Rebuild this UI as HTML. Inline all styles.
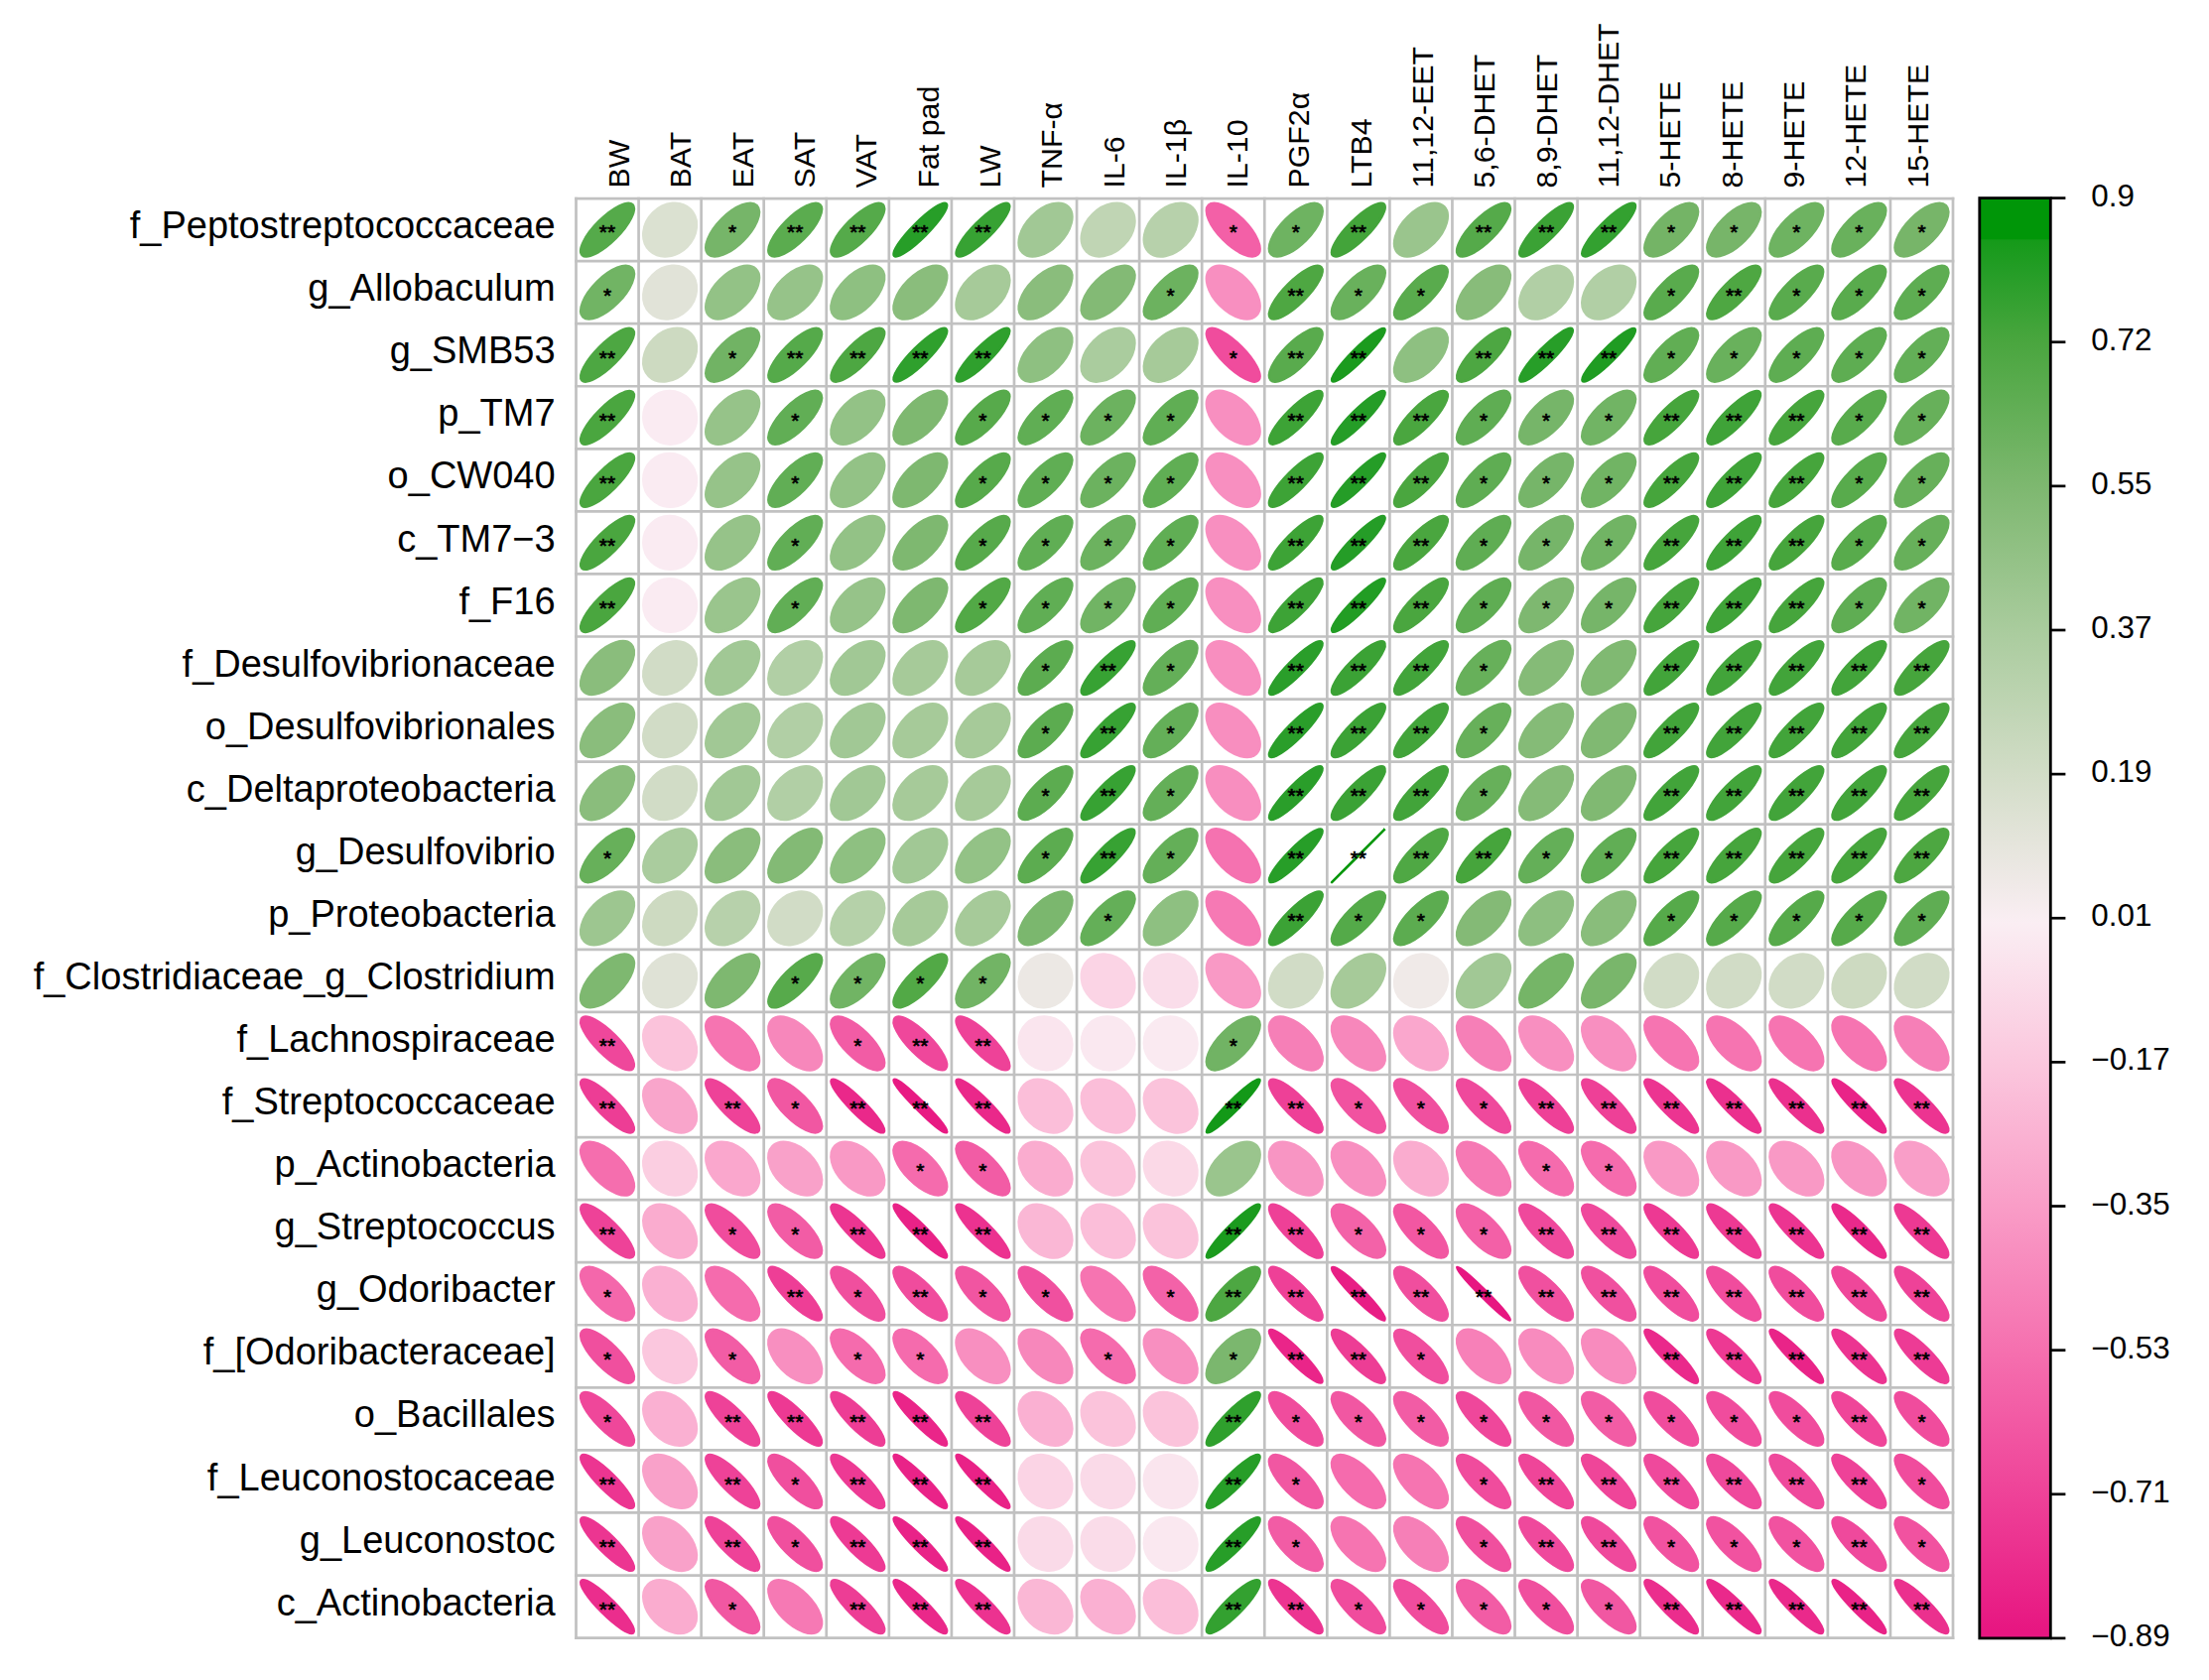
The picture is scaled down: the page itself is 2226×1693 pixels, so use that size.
<!DOCTYPE html><html><head><meta charset="utf-8"><title>Correlation plot</title>
<style>html,body{margin:0;padding:0;background:#fff}svg{display:block}text{font-family:"Liberation Sans",sans-serif;fill:#000}</style></head><body>
<svg width="2226" height="1693" viewBox="0 0 2226 1693">
<rect width="2226" height="1693" fill="#fff"/>
<defs><linearGradient id="cb" x1="0" y1="0" x2="0" y2="1">
<stop offset="0" stop-color="#009608"/><stop offset="0.0286" stop-color="#009608"/><stop offset="0.0290" stop-color="#159a19"/>
<stop offset="0.0503" stop-color="#249d26"/>
<stop offset="0.1006" stop-color="#4aa63f"/>
<stop offset="0.2011" stop-color="#7eb870"/>
<stop offset="0.3017" stop-color="#aacc9e"/>
<stop offset="0.4022" stop-color="#d3ddc8"/>
<stop offset="0.5028" stop-color="#faeef3"/>
<stop offset="0.6033" stop-color="#fbc6dd"/>
<stop offset="0.7039" stop-color="#f99bc6"/>
<stop offset="0.8044" stop-color="#f56eae"/>
<stop offset="0.9050" stop-color="#ee4097"/>
<stop offset="0.9955" stop-color="#e71681"/>
</linearGradient></defs>
<g stroke-width="2.6">
<ellipse cx="612.03" cy="231.58" rx="35.92" ry="12.12" fill="#55aa4a" stroke="#55aa4a" transform="rotate(-45 612.03 231.58)"/>
<ellipse cx="675.10" cy="231.58" rx="29.13" ry="24.26" fill="#dbe1d1" stroke="#dbe1d1" transform="rotate(-45 675.10 231.58)"/>
<ellipse cx="738.17" cy="231.58" rx="34.64" ry="15.40" fill="#76b569" stroke="#76b569" transform="rotate(-45 738.17 231.58)"/>
<ellipse cx="801.24" cy="231.58" rx="35.71" ry="12.71" fill="#5bac4f" stroke="#5bac4f" transform="rotate(-45 801.24 231.58)"/>
<ellipse cx="864.31" cy="231.58" rx="35.92" ry="12.12" fill="#55aa4a" stroke="#55aa4a" transform="rotate(-45 864.31 231.58)"/>
<ellipse cx="927.38" cy="231.58" rx="37.12" ry="7.68" fill="#279e28" stroke="#279e28" transform="rotate(-45 927.38 231.58)"/>
<ellipse cx="990.44" cy="231.58" rx="36.75" ry="9.29" fill="#37a233" stroke="#37a233" transform="rotate(-45 990.44 231.58)"/>
<ellipse cx="1053.51" cy="231.58" rx="32.59" ry="19.36" fill="#a1c895" stroke="#a1c895" transform="rotate(-45 1053.51 231.58)"/>
<ellipse cx="1116.58" cy="231.58" rx="30.84" ry="22.04" fill="#c0d5b4" stroke="#c0d5b4" transform="rotate(-45 1116.58 231.58)"/>
<ellipse cx="1179.65" cy="231.58" rx="31.35" ry="21.31" fill="#b7d1ab" stroke="#b7d1ab" transform="rotate(-45 1179.65 231.58)"/>
<ellipse cx="1242.72" cy="231.58" rx="35.13" ry="14.23" fill="#f360a7" stroke="#f360a7" transform="rotate(45 1242.72 231.58)"/>
<ellipse cx="1305.78" cy="231.58" rx="34.95" ry="14.68" fill="#6eb361" stroke="#6eb361" transform="rotate(-45 1305.78 231.58)"/>
<ellipse cx="1368.85" cy="231.58" rx="36.48" ry="10.31" fill="#43a43a" stroke="#43a43a" transform="rotate(-45 1368.85 231.58)"/>
<ellipse cx="1431.92" cy="231.58" rx="32.96" ry="18.73" fill="#9ac58d" stroke="#9ac58d" transform="rotate(-45 1431.92 231.58)"/>
<ellipse cx="1494.99" cy="231.58" rx="35.92" ry="12.12" fill="#55aa4a" stroke="#55aa4a" transform="rotate(-45 1494.99 231.58)"/>
<ellipse cx="1558.06" cy="231.58" rx="36.66" ry="9.63" fill="#3ba235" stroke="#3ba235" transform="rotate(-45 1558.06 231.58)"/>
<ellipse cx="1621.12" cy="231.58" rx="36.85" ry="8.89" fill="#33a130" stroke="#33a130" transform="rotate(-45 1621.12 231.58)"/>
<ellipse cx="1684.19" cy="231.58" rx="34.73" ry="15.19" fill="#74b466" stroke="#74b466" transform="rotate(-45 1684.19 231.58)"/>
<ellipse cx="1747.26" cy="231.58" rx="34.62" ry="15.44" fill="#77b569" stroke="#77b569" transform="rotate(-45 1747.26 231.58)"/>
<ellipse cx="1810.33" cy="231.58" rx="34.95" ry="14.68" fill="#6eb361" stroke="#6eb361" transform="rotate(-45 1810.33 231.58)"/>
<ellipse cx="1873.40" cy="231.58" rx="35.16" ry="14.16" fill="#69b15c" stroke="#69b15c" transform="rotate(-45 1873.40 231.58)"/>
<ellipse cx="1936.47" cy="231.58" rx="34.62" ry="15.44" fill="#77b569" stroke="#77b569" transform="rotate(-45 1936.47 231.58)"/>
<ellipse cx="612.03" cy="294.65" rx="34.85" ry="14.92" fill="#71b464" stroke="#71b464" transform="rotate(-45 612.03 294.65)"/>
<ellipse cx="675.10" cy="294.65" rx="28.71" ry="24.75" fill="#e1e3d8" stroke="#e1e3d8" transform="rotate(-45 675.10 294.65)"/>
<ellipse cx="738.17" cy="294.65" rx="33.31" ry="18.10" fill="#93c286" stroke="#93c286" transform="rotate(-45 738.17 294.65)"/>
<ellipse cx="801.24" cy="294.65" rx="33.18" ry="18.32" fill="#96c389" stroke="#96c389" transform="rotate(-45 801.24 294.65)"/>
<ellipse cx="864.31" cy="294.65" rx="33.53" ry="17.68" fill="#8ec081" stroke="#8ec081" transform="rotate(-45 864.31 294.65)"/>
<ellipse cx="927.38" cy="294.65" rx="33.76" ry="17.25" fill="#8abd7c" stroke="#8abd7c" transform="rotate(-45 927.38 294.65)"/>
<ellipse cx="990.44" cy="294.65" rx="32.34" ry="19.77" fill="#a6ca99" stroke="#a6ca99" transform="rotate(-45 990.44 294.65)"/>
<ellipse cx="1053.51" cy="294.65" rx="33.76" ry="17.25" fill="#8abd7c" stroke="#8abd7c" transform="rotate(-45 1053.51 294.65)"/>
<ellipse cx="1116.58" cy="294.65" rx="34.09" ry="16.57" fill="#83ba75" stroke="#83ba75" transform="rotate(-45 1116.58 294.65)"/>
<ellipse cx="1179.65" cy="294.65" rx="35.05" ry="14.43" fill="#6cb25f" stroke="#6cb25f" transform="rotate(-45 1179.65 294.65)"/>
<ellipse cx="1242.72" cy="294.65" rx="32.93" ry="18.78" fill="#f88fc0" stroke="#f88fc0" transform="rotate(45 1242.72 294.65)"/>
<ellipse cx="1305.78" cy="294.65" rx="36.18" ry="11.30" fill="#4ea742" stroke="#4ea742" transform="rotate(-45 1305.78 294.65)"/>
<ellipse cx="1368.85" cy="294.65" rx="35.16" ry="14.16" fill="#69b15c" stroke="#69b15c" transform="rotate(-45 1368.85 294.65)"/>
<ellipse cx="1431.92" cy="294.65" rx="35.80" ry="12.46" fill="#59ab4d" stroke="#59ab4d" transform="rotate(-45 1431.92 294.65)"/>
<ellipse cx="1494.99" cy="294.65" rx="33.85" ry="17.06" fill="#88bc7a" stroke="#88bc7a" transform="rotate(-45 1494.99 294.65)"/>
<ellipse cx="1558.06" cy="294.65" rx="31.72" ry="20.76" fill="#b1cfa5" stroke="#b1cfa5" transform="rotate(-45 1558.06 294.65)"/>
<ellipse cx="1621.12" cy="294.65" rx="31.72" ry="20.76" fill="#b1cfa5" stroke="#b1cfa5" transform="rotate(-45 1621.12 294.65)"/>
<ellipse cx="1684.19" cy="294.65" rx="35.80" ry="12.46" fill="#59ab4d" stroke="#59ab4d" transform="rotate(-45 1684.19 294.65)"/>
<ellipse cx="1747.26" cy="294.65" rx="36.18" ry="11.30" fill="#4ea742" stroke="#4ea742" transform="rotate(-45 1747.26 294.65)"/>
<ellipse cx="1810.33" cy="294.65" rx="35.80" ry="12.46" fill="#59ab4d" stroke="#59ab4d" transform="rotate(-45 1810.33 294.65)"/>
<ellipse cx="1873.40" cy="294.65" rx="35.80" ry="12.46" fill="#59ab4d" stroke="#59ab4d" transform="rotate(-45 1873.40 294.65)"/>
<ellipse cx="1936.47" cy="294.65" rx="35.59" ry="13.05" fill="#5ead52" stroke="#5ead52" transform="rotate(-45 1936.47 294.65)"/>
<ellipse cx="612.03" cy="357.72" rx="36.20" ry="11.24" fill="#4da742" stroke="#4da742" transform="rotate(-45 612.03 357.72)"/>
<ellipse cx="675.10" cy="357.72" rx="30.06" ry="23.10" fill="#cddac1" stroke="#cddac1" transform="rotate(-45 675.10 357.72)"/>
<ellipse cx="738.17" cy="357.72" rx="34.86" ry="14.90" fill="#71b364" stroke="#71b364" transform="rotate(-45 738.17 357.72)"/>
<ellipse cx="801.24" cy="357.72" rx="35.92" ry="12.12" fill="#55aa4a" stroke="#55aa4a" transform="rotate(-45 801.24 357.72)"/>
<ellipse cx="864.31" cy="357.72" rx="36.20" ry="11.24" fill="#4da742" stroke="#4da742" transform="rotate(-45 864.31 357.72)"/>
<ellipse cx="927.38" cy="357.72" rx="36.94" ry="8.52" fill="#2fa02d" stroke="#2fa02d" transform="rotate(-45 927.38 357.72)"/>
<ellipse cx="990.44" cy="357.72" rx="36.94" ry="8.52" fill="#2fa02d" stroke="#2fa02d" transform="rotate(-45 990.44 357.72)"/>
<ellipse cx="1053.51" cy="357.72" rx="33.53" ry="17.68" fill="#8ec081" stroke="#8ec081" transform="rotate(-45 1053.51 357.72)"/>
<ellipse cx="1116.58" cy="357.72" rx="32.10" ry="20.17" fill="#aacc9e" stroke="#aacc9e" transform="rotate(-45 1116.58 357.72)"/>
<ellipse cx="1179.65" cy="357.72" rx="32.34" ry="19.77" fill="#a6ca99" stroke="#a6ca99" transform="rotate(-45 1179.65 357.72)"/>
<ellipse cx="1242.72" cy="357.72" rx="36.02" ry="11.80" fill="#f04c9d" stroke="#f04c9d" transform="rotate(45 1242.72 357.72)"/>
<ellipse cx="1305.78" cy="357.72" rx="35.80" ry="12.46" fill="#59ab4d" stroke="#59ab4d" transform="rotate(-45 1305.78 357.72)"/>
<ellipse cx="1368.85" cy="357.72" rx="37.36" ry="6.40" fill="#1b9b1e" stroke="#1b9b1e" transform="rotate(-45 1368.85 357.72)"/>
<ellipse cx="1431.92" cy="357.72" rx="33.53" ry="17.68" fill="#8ec081" stroke="#8ec081" transform="rotate(-45 1431.92 357.72)"/>
<ellipse cx="1494.99" cy="357.72" rx="36.20" ry="11.24" fill="#4da742" stroke="#4da742" transform="rotate(-45 1494.99 357.72)"/>
<ellipse cx="1558.06" cy="357.72" rx="37.12" ry="7.68" fill="#279e28" stroke="#279e28" transform="rotate(-45 1558.06 357.72)"/>
<ellipse cx="1621.12" cy="357.72" rx="37.28" ry="6.85" fill="#1f9c22" stroke="#1f9c22" transform="rotate(-45 1621.12 357.72)"/>
<ellipse cx="1684.19" cy="357.72" rx="35.49" ry="13.32" fill="#61ae54" stroke="#61ae54" transform="rotate(-45 1684.19 357.72)"/>
<ellipse cx="1747.26" cy="357.72" rx="35.16" ry="14.16" fill="#69b15c" stroke="#69b15c" transform="rotate(-45 1747.26 357.72)"/>
<ellipse cx="1810.33" cy="357.72" rx="35.59" ry="13.05" fill="#5ead52" stroke="#5ead52" transform="rotate(-45 1810.33 357.72)"/>
<ellipse cx="1873.40" cy="357.72" rx="35.59" ry="13.05" fill="#5ead52" stroke="#5ead52" transform="rotate(-45 1873.40 357.72)"/>
<ellipse cx="1936.47" cy="357.72" rx="35.38" ry="13.61" fill="#63af57" stroke="#63af57" transform="rotate(-45 1936.47 357.72)"/>
<ellipse cx="612.03" cy="420.79" rx="36.31" ry="10.89" fill="#4aa63f" stroke="#4aa63f" transform="rotate(-45 612.03 420.79)"/>
<ellipse cx="675.10" cy="420.79" rx="27.03" ry="26.58" fill="#faebf2" stroke="#faebf2" transform="rotate(45 675.10 420.79)"/>
<ellipse cx="738.17" cy="420.79" rx="33.18" ry="18.32" fill="#96c389" stroke="#96c389" transform="rotate(-45 738.17 420.79)"/>
<ellipse cx="801.24" cy="420.79" rx="35.46" ry="13.40" fill="#61ae55" stroke="#61ae55" transform="rotate(-45 801.24 420.79)"/>
<ellipse cx="864.31" cy="420.79" rx="33.31" ry="18.10" fill="#93c286" stroke="#93c286" transform="rotate(-45 864.31 420.79)"/>
<ellipse cx="927.38" cy="420.79" rx="34.33" ry="16.08" fill="#7eb870" stroke="#7eb870" transform="rotate(-45 927.38 420.79)"/>
<ellipse cx="990.44" cy="420.79" rx="35.86" ry="12.28" fill="#57aa4b" stroke="#57aa4b" transform="rotate(-45 990.44 420.79)"/>
<ellipse cx="1053.51" cy="420.79" rx="35.51" ry="13.27" fill="#60ae54" stroke="#60ae54" transform="rotate(-45 1053.51 420.79)"/>
<ellipse cx="1116.58" cy="420.79" rx="35.05" ry="14.43" fill="#6cb25f" stroke="#6cb25f" transform="rotate(-45 1116.58 420.79)"/>
<ellipse cx="1179.65" cy="420.79" rx="35.51" ry="13.27" fill="#60ae54" stroke="#60ae54" transform="rotate(-45 1179.65 420.79)"/>
<ellipse cx="1242.72" cy="420.79" rx="32.93" ry="18.78" fill="#f88fc0" stroke="#f88fc0" transform="rotate(45 1242.72 420.79)"/>
<ellipse cx="1305.78" cy="420.79" rx="36.62" ry="9.79" fill="#3da336" stroke="#3da336" transform="rotate(-45 1305.78 420.79)"/>
<ellipse cx="1368.85" cy="420.79" rx="37.16" ry="7.47" fill="#259d27" stroke="#259d27" transform="rotate(-45 1368.85 420.79)"/>
<ellipse cx="1431.92" cy="420.79" rx="36.31" ry="10.89" fill="#4aa63f" stroke="#4aa63f" transform="rotate(-45 1431.92 420.79)"/>
<ellipse cx="1494.99" cy="420.79" rx="35.56" ry="13.13" fill="#5fad53" stroke="#5fad53" transform="rotate(-45 1494.99 420.79)"/>
<ellipse cx="1558.06" cy="420.79" rx="34.64" ry="15.40" fill="#76b569" stroke="#76b569" transform="rotate(-45 1558.06 420.79)"/>
<ellipse cx="1621.12" cy="420.79" rx="34.85" ry="14.92" fill="#71b464" stroke="#71b464" transform="rotate(-45 1621.12 420.79)"/>
<ellipse cx="1684.19" cy="420.79" rx="36.40" ry="10.59" fill="#46a53c" stroke="#46a53c" transform="rotate(-45 1684.19 420.79)"/>
<ellipse cx="1747.26" cy="420.79" rx="36.58" ry="9.96" fill="#3fa338" stroke="#3fa338" transform="rotate(-45 1747.26 420.79)"/>
<ellipse cx="1810.33" cy="420.79" rx="36.40" ry="10.59" fill="#46a53c" stroke="#46a53c" transform="rotate(-45 1810.33 420.79)"/>
<ellipse cx="1873.40" cy="420.79" rx="35.81" ry="12.43" fill="#58ab4c" stroke="#58ab4c" transform="rotate(-45 1873.40 420.79)"/>
<ellipse cx="1936.47" cy="420.79" rx="35.26" ry="13.93" fill="#67b05a" stroke="#67b05a" transform="rotate(-45 1936.47 420.79)"/>
<ellipse cx="612.03" cy="483.85" rx="36.31" ry="10.89" fill="#4aa63f" stroke="#4aa63f" transform="rotate(-45 612.03 483.85)"/>
<ellipse cx="675.10" cy="483.85" rx="27.03" ry="26.58" fill="#faebf2" stroke="#faebf2" transform="rotate(45 675.10 483.85)"/>
<ellipse cx="738.17" cy="483.85" rx="33.18" ry="18.32" fill="#96c389" stroke="#96c389" transform="rotate(-45 738.17 483.85)"/>
<ellipse cx="801.24" cy="483.85" rx="35.46" ry="13.40" fill="#61ae55" stroke="#61ae55" transform="rotate(-45 801.24 483.85)"/>
<ellipse cx="864.31" cy="483.85" rx="33.31" ry="18.10" fill="#93c286" stroke="#93c286" transform="rotate(-45 864.31 483.85)"/>
<ellipse cx="927.38" cy="483.85" rx="34.33" ry="16.08" fill="#7eb870" stroke="#7eb870" transform="rotate(-45 927.38 483.85)"/>
<ellipse cx="990.44" cy="483.85" rx="35.86" ry="12.28" fill="#57aa4b" stroke="#57aa4b" transform="rotate(-45 990.44 483.85)"/>
<ellipse cx="1053.51" cy="483.85" rx="35.51" ry="13.27" fill="#60ae54" stroke="#60ae54" transform="rotate(-45 1053.51 483.85)"/>
<ellipse cx="1116.58" cy="483.85" rx="35.05" ry="14.43" fill="#6cb25f" stroke="#6cb25f" transform="rotate(-45 1116.58 483.85)"/>
<ellipse cx="1179.65" cy="483.85" rx="35.51" ry="13.27" fill="#60ae54" stroke="#60ae54" transform="rotate(-45 1179.65 483.85)"/>
<ellipse cx="1242.72" cy="483.85" rx="32.93" ry="18.78" fill="#f88fc0" stroke="#f88fc0" transform="rotate(45 1242.72 483.85)"/>
<ellipse cx="1305.78" cy="483.85" rx="36.62" ry="9.79" fill="#3da336" stroke="#3da336" transform="rotate(-45 1305.78 483.85)"/>
<ellipse cx="1368.85" cy="483.85" rx="37.16" ry="7.47" fill="#259d27" stroke="#259d27" transform="rotate(-45 1368.85 483.85)"/>
<ellipse cx="1431.92" cy="483.85" rx="36.31" ry="10.89" fill="#4aa63f" stroke="#4aa63f" transform="rotate(-45 1431.92 483.85)"/>
<ellipse cx="1494.99" cy="483.85" rx="35.56" ry="13.13" fill="#5fad53" stroke="#5fad53" transform="rotate(-45 1494.99 483.85)"/>
<ellipse cx="1558.06" cy="483.85" rx="34.64" ry="15.40" fill="#76b569" stroke="#76b569" transform="rotate(-45 1558.06 483.85)"/>
<ellipse cx="1621.12" cy="483.85" rx="34.85" ry="14.92" fill="#71b464" stroke="#71b464" transform="rotate(-45 1621.12 483.85)"/>
<ellipse cx="1684.19" cy="483.85" rx="36.40" ry="10.59" fill="#46a53c" stroke="#46a53c" transform="rotate(-45 1684.19 483.85)"/>
<ellipse cx="1747.26" cy="483.85" rx="36.58" ry="9.96" fill="#3fa338" stroke="#3fa338" transform="rotate(-45 1747.26 483.85)"/>
<ellipse cx="1810.33" cy="483.85" rx="36.40" ry="10.59" fill="#46a53c" stroke="#46a53c" transform="rotate(-45 1810.33 483.85)"/>
<ellipse cx="1873.40" cy="483.85" rx="35.81" ry="12.43" fill="#58ab4c" stroke="#58ab4c" transform="rotate(-45 1873.40 483.85)"/>
<ellipse cx="1936.47" cy="483.85" rx="35.26" ry="13.93" fill="#67b05a" stroke="#67b05a" transform="rotate(-45 1936.47 483.85)"/>
<ellipse cx="612.03" cy="546.92" rx="36.31" ry="10.89" fill="#4aa63f" stroke="#4aa63f" transform="rotate(-45 612.03 546.92)"/>
<ellipse cx="675.10" cy="546.92" rx="27.03" ry="26.58" fill="#faebf2" stroke="#faebf2" transform="rotate(45 675.10 546.92)"/>
<ellipse cx="738.17" cy="546.92" rx="33.18" ry="18.32" fill="#96c389" stroke="#96c389" transform="rotate(-45 738.17 546.92)"/>
<ellipse cx="801.24" cy="546.92" rx="35.46" ry="13.40" fill="#61ae55" stroke="#61ae55" transform="rotate(-45 801.24 546.92)"/>
<ellipse cx="864.31" cy="546.92" rx="33.31" ry="18.10" fill="#93c286" stroke="#93c286" transform="rotate(-45 864.31 546.92)"/>
<ellipse cx="927.38" cy="546.92" rx="34.33" ry="16.08" fill="#7eb870" stroke="#7eb870" transform="rotate(-45 927.38 546.92)"/>
<ellipse cx="990.44" cy="546.92" rx="35.86" ry="12.28" fill="#57aa4b" stroke="#57aa4b" transform="rotate(-45 990.44 546.92)"/>
<ellipse cx="1053.51" cy="546.92" rx="35.51" ry="13.27" fill="#60ae54" stroke="#60ae54" transform="rotate(-45 1053.51 546.92)"/>
<ellipse cx="1116.58" cy="546.92" rx="35.05" ry="14.43" fill="#6cb25f" stroke="#6cb25f" transform="rotate(-45 1116.58 546.92)"/>
<ellipse cx="1179.65" cy="546.92" rx="35.51" ry="13.27" fill="#60ae54" stroke="#60ae54" transform="rotate(-45 1179.65 546.92)"/>
<ellipse cx="1242.72" cy="546.92" rx="32.93" ry="18.78" fill="#f88fc0" stroke="#f88fc0" transform="rotate(45 1242.72 546.92)"/>
<ellipse cx="1305.78" cy="546.92" rx="36.62" ry="9.79" fill="#3da336" stroke="#3da336" transform="rotate(-45 1305.78 546.92)"/>
<ellipse cx="1368.85" cy="546.92" rx="37.16" ry="7.47" fill="#259d27" stroke="#259d27" transform="rotate(-45 1368.85 546.92)"/>
<ellipse cx="1431.92" cy="546.92" rx="36.31" ry="10.89" fill="#4aa63f" stroke="#4aa63f" transform="rotate(-45 1431.92 546.92)"/>
<ellipse cx="1494.99" cy="546.92" rx="35.56" ry="13.13" fill="#5fad53" stroke="#5fad53" transform="rotate(-45 1494.99 546.92)"/>
<ellipse cx="1558.06" cy="546.92" rx="34.64" ry="15.40" fill="#76b569" stroke="#76b569" transform="rotate(-45 1558.06 546.92)"/>
<ellipse cx="1621.12" cy="546.92" rx="34.85" ry="14.92" fill="#71b464" stroke="#71b464" transform="rotate(-45 1621.12 546.92)"/>
<ellipse cx="1684.19" cy="546.92" rx="36.40" ry="10.59" fill="#46a53c" stroke="#46a53c" transform="rotate(-45 1684.19 546.92)"/>
<ellipse cx="1747.26" cy="546.92" rx="36.58" ry="9.96" fill="#3fa338" stroke="#3fa338" transform="rotate(-45 1747.26 546.92)"/>
<ellipse cx="1810.33" cy="546.92" rx="36.40" ry="10.59" fill="#46a53c" stroke="#46a53c" transform="rotate(-45 1810.33 546.92)"/>
<ellipse cx="1873.40" cy="546.92" rx="35.81" ry="12.43" fill="#58ab4c" stroke="#58ab4c" transform="rotate(-45 1873.40 546.92)"/>
<ellipse cx="1936.47" cy="546.92" rx="35.26" ry="13.93" fill="#67b05a" stroke="#67b05a" transform="rotate(-45 1936.47 546.92)"/>
<ellipse cx="612.03" cy="609.99" rx="36.31" ry="10.89" fill="#4aa63f" stroke="#4aa63f" transform="rotate(-45 612.03 609.99)"/>
<ellipse cx="675.10" cy="609.99" rx="27.03" ry="26.58" fill="#faebf2" stroke="#faebf2" transform="rotate(45 675.10 609.99)"/>
<ellipse cx="738.17" cy="609.99" rx="32.96" ry="18.73" fill="#9ac58d" stroke="#9ac58d" transform="rotate(-45 738.17 609.99)"/>
<ellipse cx="801.24" cy="609.99" rx="35.46" ry="13.40" fill="#61ae55" stroke="#61ae55" transform="rotate(-45 801.24 609.99)"/>
<ellipse cx="864.31" cy="609.99" rx="33.18" ry="18.32" fill="#96c389" stroke="#96c389" transform="rotate(-45 864.31 609.99)"/>
<ellipse cx="927.38" cy="609.99" rx="34.33" ry="16.08" fill="#7eb870" stroke="#7eb870" transform="rotate(-45 927.38 609.99)"/>
<ellipse cx="990.44" cy="609.99" rx="36.04" ry="11.74" fill="#52a946" stroke="#52a946" transform="rotate(-45 990.44 609.99)"/>
<ellipse cx="1053.51" cy="609.99" rx="35.51" ry="13.27" fill="#60ae54" stroke="#60ae54" transform="rotate(-45 1053.51 609.99)"/>
<ellipse cx="1116.58" cy="609.99" rx="34.85" ry="14.92" fill="#71b464" stroke="#71b464" transform="rotate(-45 1116.58 609.99)"/>
<ellipse cx="1179.65" cy="609.99" rx="35.51" ry="13.27" fill="#60ae54" stroke="#60ae54" transform="rotate(-45 1179.65 609.99)"/>
<ellipse cx="1242.72" cy="609.99" rx="32.93" ry="18.78" fill="#f88fc0" stroke="#f88fc0" transform="rotate(45 1242.72 609.99)"/>
<ellipse cx="1305.78" cy="609.99" rx="36.62" ry="9.79" fill="#3da336" stroke="#3da336" transform="rotate(-45 1305.78 609.99)"/>
<ellipse cx="1368.85" cy="609.99" rx="37.23" ry="7.15" fill="#229d24" stroke="#229d24" transform="rotate(-45 1368.85 609.99)"/>
<ellipse cx="1431.92" cy="609.99" rx="36.31" ry="10.89" fill="#4aa63f" stroke="#4aa63f" transform="rotate(-45 1431.92 609.99)"/>
<ellipse cx="1494.99" cy="609.99" rx="35.56" ry="13.13" fill="#5fad53" stroke="#5fad53" transform="rotate(-45 1494.99 609.99)"/>
<ellipse cx="1558.06" cy="609.99" rx="34.33" ry="16.08" fill="#7eb870" stroke="#7eb870" transform="rotate(-45 1558.06 609.99)"/>
<ellipse cx="1621.12" cy="609.99" rx="34.64" ry="15.40" fill="#76b569" stroke="#76b569" transform="rotate(-45 1621.12 609.99)"/>
<ellipse cx="1684.19" cy="609.99" rx="36.40" ry="10.59" fill="#46a53c" stroke="#46a53c" transform="rotate(-45 1684.19 609.99)"/>
<ellipse cx="1747.26" cy="609.99" rx="36.58" ry="9.96" fill="#3fa338" stroke="#3fa338" transform="rotate(-45 1747.26 609.99)"/>
<ellipse cx="1810.33" cy="609.99" rx="36.40" ry="10.59" fill="#46a53c" stroke="#46a53c" transform="rotate(-45 1810.33 609.99)"/>
<ellipse cx="1873.40" cy="609.99" rx="35.56" ry="13.13" fill="#5fad53" stroke="#5fad53" transform="rotate(-45 1873.40 609.99)"/>
<ellipse cx="1936.47" cy="609.99" rx="34.85" ry="14.92" fill="#71b464" stroke="#71b464" transform="rotate(-45 1936.47 609.99)"/>
<ellipse cx="612.03" cy="673.06" rx="33.76" ry="17.25" fill="#8abd7c" stroke="#8abd7c" transform="rotate(-45 612.03 673.06)"/>
<ellipse cx="675.10" cy="673.06" rx="29.79" ry="23.44" fill="#d1dcc6" stroke="#d1dcc6" transform="rotate(-45 675.10 673.06)"/>
<ellipse cx="738.17" cy="673.06" rx="32.59" ry="19.36" fill="#a1c895" stroke="#a1c895" transform="rotate(-45 738.17 673.06)"/>
<ellipse cx="801.24" cy="673.06" rx="31.72" ry="20.76" fill="#b1cfa5" stroke="#b1cfa5" transform="rotate(-45 801.24 673.06)"/>
<ellipse cx="864.31" cy="673.06" rx="32.59" ry="19.36" fill="#a1c895" stroke="#a1c895" transform="rotate(-45 864.31 673.06)"/>
<ellipse cx="927.38" cy="673.06" rx="32.34" ry="19.77" fill="#a6ca99" stroke="#a6ca99" transform="rotate(-45 927.38 673.06)"/>
<ellipse cx="990.44" cy="673.06" rx="32.34" ry="19.77" fill="#a6ca99" stroke="#a6ca99" transform="rotate(-45 990.44 673.06)"/>
<ellipse cx="1053.51" cy="673.06" rx="35.66" ry="12.85" fill="#5cac50" stroke="#5cac50" transform="rotate(-45 1053.51 673.06)"/>
<ellipse cx="1116.58" cy="673.06" rx="36.75" ry="9.29" fill="#37a233" stroke="#37a233" transform="rotate(-45 1116.58 673.06)"/>
<ellipse cx="1179.65" cy="673.06" rx="35.36" ry="13.67" fill="#64af58" stroke="#64af58" transform="rotate(-45 1179.65 673.06)"/>
<ellipse cx="1242.72" cy="673.06" rx="33.02" ry="18.62" fill="#f88ebf" stroke="#f88ebf" transform="rotate(45 1242.72 673.06)"/>
<ellipse cx="1305.78" cy="673.06" rx="37.06" ry="7.97" fill="#2a9e2a" stroke="#2a9e2a" transform="rotate(-45 1305.78 673.06)"/>
<ellipse cx="1368.85" cy="673.06" rx="36.66" ry="9.63" fill="#3ba235" stroke="#3ba235" transform="rotate(-45 1368.85 673.06)"/>
<ellipse cx="1431.92" cy="673.06" rx="36.49" ry="10.28" fill="#42a43a" stroke="#42a43a" transform="rotate(-45 1431.92 673.06)"/>
<ellipse cx="1494.99" cy="673.06" rx="35.26" ry="13.93" fill="#67b05a" stroke="#67b05a" transform="rotate(-45 1494.99 673.06)"/>
<ellipse cx="1558.06" cy="673.06" rx="34.01" ry="16.74" fill="#85bb77" stroke="#85bb77" transform="rotate(-45 1558.06 673.06)"/>
<ellipse cx="1621.12" cy="673.06" rx="34.22" ry="16.30" fill="#80b972" stroke="#80b972" transform="rotate(-45 1621.12 673.06)"/>
<ellipse cx="1684.19" cy="673.06" rx="36.49" ry="10.28" fill="#42a43a" stroke="#42a43a" transform="rotate(-45 1684.19 673.06)"/>
<ellipse cx="1747.26" cy="673.06" rx="36.49" ry="10.28" fill="#42a43a" stroke="#42a43a" transform="rotate(-45 1747.26 673.06)"/>
<ellipse cx="1810.33" cy="673.06" rx="36.49" ry="10.28" fill="#42a43a" stroke="#42a43a" transform="rotate(-45 1810.33 673.06)"/>
<ellipse cx="1873.40" cy="673.06" rx="36.49" ry="10.28" fill="#42a43a" stroke="#42a43a" transform="rotate(-45 1873.40 673.06)"/>
<ellipse cx="1936.47" cy="673.06" rx="36.40" ry="10.59" fill="#46a53c" stroke="#46a53c" transform="rotate(-45 1936.47 673.06)"/>
<ellipse cx="612.03" cy="736.12" rx="33.76" ry="17.25" fill="#8abd7c" stroke="#8abd7c" transform="rotate(-45 612.03 736.12)"/>
<ellipse cx="675.10" cy="736.12" rx="29.79" ry="23.44" fill="#d1dcc6" stroke="#d1dcc6" transform="rotate(-45 675.10 736.12)"/>
<ellipse cx="738.17" cy="736.12" rx="32.59" ry="19.36" fill="#a1c895" stroke="#a1c895" transform="rotate(-45 738.17 736.12)"/>
<ellipse cx="801.24" cy="736.12" rx="31.72" ry="20.76" fill="#b1cfa5" stroke="#b1cfa5" transform="rotate(-45 801.24 736.12)"/>
<ellipse cx="864.31" cy="736.12" rx="32.59" ry="19.36" fill="#a1c895" stroke="#a1c895" transform="rotate(-45 864.31 736.12)"/>
<ellipse cx="927.38" cy="736.12" rx="32.34" ry="19.77" fill="#a6ca99" stroke="#a6ca99" transform="rotate(-45 927.38 736.12)"/>
<ellipse cx="990.44" cy="736.12" rx="32.34" ry="19.77" fill="#a6ca99" stroke="#a6ca99" transform="rotate(-45 990.44 736.12)"/>
<ellipse cx="1053.51" cy="736.12" rx="35.66" ry="12.85" fill="#5cac50" stroke="#5cac50" transform="rotate(-45 1053.51 736.12)"/>
<ellipse cx="1116.58" cy="736.12" rx="36.75" ry="9.29" fill="#37a233" stroke="#37a233" transform="rotate(-45 1116.58 736.12)"/>
<ellipse cx="1179.65" cy="736.12" rx="35.36" ry="13.67" fill="#64af58" stroke="#64af58" transform="rotate(-45 1179.65 736.12)"/>
<ellipse cx="1242.72" cy="736.12" rx="33.02" ry="18.62" fill="#f88ebf" stroke="#f88ebf" transform="rotate(45 1242.72 736.12)"/>
<ellipse cx="1305.78" cy="736.12" rx="37.06" ry="7.97" fill="#2a9e2a" stroke="#2a9e2a" transform="rotate(-45 1305.78 736.12)"/>
<ellipse cx="1368.85" cy="736.12" rx="36.66" ry="9.63" fill="#3ba235" stroke="#3ba235" transform="rotate(-45 1368.85 736.12)"/>
<ellipse cx="1431.92" cy="736.12" rx="36.49" ry="10.28" fill="#42a43a" stroke="#42a43a" transform="rotate(-45 1431.92 736.12)"/>
<ellipse cx="1494.99" cy="736.12" rx="35.26" ry="13.93" fill="#67b05a" stroke="#67b05a" transform="rotate(-45 1494.99 736.12)"/>
<ellipse cx="1558.06" cy="736.12" rx="34.01" ry="16.74" fill="#85bb77" stroke="#85bb77" transform="rotate(-45 1558.06 736.12)"/>
<ellipse cx="1621.12" cy="736.12" rx="34.22" ry="16.30" fill="#80b972" stroke="#80b972" transform="rotate(-45 1621.12 736.12)"/>
<ellipse cx="1684.19" cy="736.12" rx="36.49" ry="10.28" fill="#42a43a" stroke="#42a43a" transform="rotate(-45 1684.19 736.12)"/>
<ellipse cx="1747.26" cy="736.12" rx="36.49" ry="10.28" fill="#42a43a" stroke="#42a43a" transform="rotate(-45 1747.26 736.12)"/>
<ellipse cx="1810.33" cy="736.12" rx="36.49" ry="10.28" fill="#42a43a" stroke="#42a43a" transform="rotate(-45 1810.33 736.12)"/>
<ellipse cx="1873.40" cy="736.12" rx="36.49" ry="10.28" fill="#42a43a" stroke="#42a43a" transform="rotate(-45 1873.40 736.12)"/>
<ellipse cx="1936.47" cy="736.12" rx="36.40" ry="10.59" fill="#46a53c" stroke="#46a53c" transform="rotate(-45 1936.47 736.12)"/>
<ellipse cx="612.03" cy="799.19" rx="33.76" ry="17.25" fill="#8abd7c" stroke="#8abd7c" transform="rotate(-45 612.03 799.19)"/>
<ellipse cx="675.10" cy="799.19" rx="29.79" ry="23.44" fill="#d1dcc6" stroke="#d1dcc6" transform="rotate(-45 675.10 799.19)"/>
<ellipse cx="738.17" cy="799.19" rx="32.59" ry="19.36" fill="#a1c895" stroke="#a1c895" transform="rotate(-45 738.17 799.19)"/>
<ellipse cx="801.24" cy="799.19" rx="31.72" ry="20.76" fill="#b1cfa5" stroke="#b1cfa5" transform="rotate(-45 801.24 799.19)"/>
<ellipse cx="864.31" cy="799.19" rx="32.59" ry="19.36" fill="#a1c895" stroke="#a1c895" transform="rotate(-45 864.31 799.19)"/>
<ellipse cx="927.38" cy="799.19" rx="32.34" ry="19.77" fill="#a6ca99" stroke="#a6ca99" transform="rotate(-45 927.38 799.19)"/>
<ellipse cx="990.44" cy="799.19" rx="32.34" ry="19.77" fill="#a6ca99" stroke="#a6ca99" transform="rotate(-45 990.44 799.19)"/>
<ellipse cx="1053.51" cy="799.19" rx="35.66" ry="12.85" fill="#5cac50" stroke="#5cac50" transform="rotate(-45 1053.51 799.19)"/>
<ellipse cx="1116.58" cy="799.19" rx="36.75" ry="9.29" fill="#37a233" stroke="#37a233" transform="rotate(-45 1116.58 799.19)"/>
<ellipse cx="1179.65" cy="799.19" rx="35.36" ry="13.67" fill="#64af58" stroke="#64af58" transform="rotate(-45 1179.65 799.19)"/>
<ellipse cx="1242.72" cy="799.19" rx="33.02" ry="18.62" fill="#f88ebf" stroke="#f88ebf" transform="rotate(45 1242.72 799.19)"/>
<ellipse cx="1305.78" cy="799.19" rx="37.06" ry="7.97" fill="#2a9e2a" stroke="#2a9e2a" transform="rotate(-45 1305.78 799.19)"/>
<ellipse cx="1368.85" cy="799.19" rx="36.66" ry="9.63" fill="#3ba235" stroke="#3ba235" transform="rotate(-45 1368.85 799.19)"/>
<ellipse cx="1431.92" cy="799.19" rx="36.49" ry="10.28" fill="#42a43a" stroke="#42a43a" transform="rotate(-45 1431.92 799.19)"/>
<ellipse cx="1494.99" cy="799.19" rx="35.26" ry="13.93" fill="#67b05a" stroke="#67b05a" transform="rotate(-45 1494.99 799.19)"/>
<ellipse cx="1558.06" cy="799.19" rx="34.01" ry="16.74" fill="#85bb77" stroke="#85bb77" transform="rotate(-45 1558.06 799.19)"/>
<ellipse cx="1621.12" cy="799.19" rx="34.22" ry="16.30" fill="#80b972" stroke="#80b972" transform="rotate(-45 1621.12 799.19)"/>
<ellipse cx="1684.19" cy="799.19" rx="36.49" ry="10.28" fill="#42a43a" stroke="#42a43a" transform="rotate(-45 1684.19 799.19)"/>
<ellipse cx="1747.26" cy="799.19" rx="36.49" ry="10.28" fill="#42a43a" stroke="#42a43a" transform="rotate(-45 1747.26 799.19)"/>
<ellipse cx="1810.33" cy="799.19" rx="36.49" ry="10.28" fill="#42a43a" stroke="#42a43a" transform="rotate(-45 1810.33 799.19)"/>
<ellipse cx="1873.40" cy="799.19" rx="36.49" ry="10.28" fill="#42a43a" stroke="#42a43a" transform="rotate(-45 1873.40 799.19)"/>
<ellipse cx="1936.47" cy="799.19" rx="36.40" ry="10.59" fill="#46a53c" stroke="#46a53c" transform="rotate(-45 1936.47 799.19)"/>
<ellipse cx="612.03" cy="862.26" rx="35.26" ry="13.93" fill="#67b05a" stroke="#67b05a" transform="rotate(-45 612.03 862.26)"/>
<ellipse cx="675.10" cy="862.26" rx="32.10" ry="20.17" fill="#aacc9e" stroke="#aacc9e" transform="rotate(-45 675.10 862.26)"/>
<ellipse cx="738.17" cy="862.26" rx="33.76" ry="17.25" fill="#8abd7c" stroke="#8abd7c" transform="rotate(-45 738.17 862.26)"/>
<ellipse cx="801.24" cy="862.26" rx="34.09" ry="16.57" fill="#83ba75" stroke="#83ba75" transform="rotate(-45 801.24 862.26)"/>
<ellipse cx="864.31" cy="862.26" rx="33.53" ry="17.68" fill="#8ec081" stroke="#8ec081" transform="rotate(-45 864.31 862.26)"/>
<ellipse cx="927.38" cy="862.26" rx="32.59" ry="19.36" fill="#a1c895" stroke="#a1c895" transform="rotate(-45 927.38 862.26)"/>
<ellipse cx="990.44" cy="862.26" rx="33.31" ry="18.10" fill="#93c286" stroke="#93c286" transform="rotate(-45 990.44 862.26)"/>
<ellipse cx="1053.51" cy="862.26" rx="35.66" ry="12.85" fill="#5cac50" stroke="#5cac50" transform="rotate(-45 1053.51 862.26)"/>
<ellipse cx="1116.58" cy="862.26" rx="36.75" ry="9.29" fill="#37a233" stroke="#37a233" transform="rotate(-45 1116.58 862.26)"/>
<ellipse cx="1179.65" cy="862.26" rx="35.36" ry="13.67" fill="#64af58" stroke="#64af58" transform="rotate(-45 1179.65 862.26)"/>
<ellipse cx="1242.72" cy="862.26" rx="34.32" ry="16.08" fill="#f572b0" stroke="#f572b0" transform="rotate(45 1242.72 862.26)"/>
<ellipse cx="1305.78" cy="862.26" rx="37.12" ry="7.68" fill="#279e28" stroke="#279e28" transform="rotate(-45 1305.78 862.26)"/>
<ellipse cx="1368.85" cy="862.26" rx="37.91" ry="0.05" fill="#009608" stroke="#009608" transform="rotate(-45 1368.85 862.26)"/>
<ellipse cx="1431.92" cy="862.26" rx="36.13" ry="11.47" fill="#4fa844" stroke="#4fa844" transform="rotate(-45 1431.92 862.26)"/>
<ellipse cx="1494.99" cy="862.26" rx="36.40" ry="10.59" fill="#46a53c" stroke="#46a53c" transform="rotate(-45 1494.99 862.26)"/>
<ellipse cx="1558.06" cy="862.26" rx="35.36" ry="13.67" fill="#64af58" stroke="#64af58" transform="rotate(-45 1558.06 862.26)"/>
<ellipse cx="1621.12" cy="862.26" rx="35.46" ry="13.40" fill="#61ae55" stroke="#61ae55" transform="rotate(-45 1621.12 862.26)"/>
<ellipse cx="1684.19" cy="862.26" rx="36.40" ry="10.59" fill="#46a53c" stroke="#46a53c" transform="rotate(-45 1684.19 862.26)"/>
<ellipse cx="1747.26" cy="862.26" rx="36.40" ry="10.59" fill="#46a53c" stroke="#46a53c" transform="rotate(-45 1747.26 862.26)"/>
<ellipse cx="1810.33" cy="862.26" rx="36.40" ry="10.59" fill="#46a53c" stroke="#46a53c" transform="rotate(-45 1810.33 862.26)"/>
<ellipse cx="1873.40" cy="862.26" rx="36.40" ry="10.59" fill="#46a53c" stroke="#46a53c" transform="rotate(-45 1873.40 862.26)"/>
<ellipse cx="1936.47" cy="862.26" rx="36.22" ry="11.18" fill="#4da741" stroke="#4da741" transform="rotate(-45 1936.47 862.26)"/>
<ellipse cx="612.03" cy="925.33" rx="32.81" ry="18.99" fill="#9dc690" stroke="#9dc690" transform="rotate(-45 612.03 925.33)"/>
<ellipse cx="675.10" cy="925.33" rx="30.06" ry="23.10" fill="#cddac1" stroke="#cddac1" transform="rotate(-45 675.10 925.33)"/>
<ellipse cx="738.17" cy="925.33" rx="31.35" ry="21.31" fill="#b7d1ab" stroke="#b7d1ab" transform="rotate(-45 738.17 925.33)"/>
<ellipse cx="801.24" cy="925.33" rx="29.79" ry="23.44" fill="#d1dcc6" stroke="#d1dcc6" transform="rotate(-45 801.24 925.33)"/>
<ellipse cx="864.31" cy="925.33" rx="31.48" ry="21.12" fill="#b5d1a9" stroke="#b5d1a9" transform="rotate(-45 864.31 925.33)"/>
<ellipse cx="927.38" cy="925.33" rx="32.34" ry="19.77" fill="#a6ca99" stroke="#a6ca99" transform="rotate(-45 927.38 925.33)"/>
<ellipse cx="990.44" cy="925.33" rx="32.34" ry="19.77" fill="#a6ca99" stroke="#a6ca99" transform="rotate(-45 990.44 925.33)"/>
<ellipse cx="1053.51" cy="925.33" rx="34.43" ry="15.86" fill="#7bb76e" stroke="#7bb76e" transform="rotate(-45 1053.51 925.33)"/>
<ellipse cx="1116.58" cy="925.33" rx="35.36" ry="13.67" fill="#64af58" stroke="#64af58" transform="rotate(-45 1116.58 925.33)"/>
<ellipse cx="1179.65" cy="925.33" rx="33.53" ry="17.68" fill="#8ec081" stroke="#8ec081" transform="rotate(-45 1179.65 925.33)"/>
<ellipse cx="1242.72" cy="925.33" rx="34.00" ry="16.75" fill="#f679b4" stroke="#f679b4" transform="rotate(45 1242.72 925.33)"/>
<ellipse cx="1305.78" cy="925.33" rx="36.66" ry="9.63" fill="#3ba235" stroke="#3ba235" transform="rotate(-45 1305.78 925.33)"/>
<ellipse cx="1368.85" cy="925.33" rx="35.95" ry="12.02" fill="#54aa49" stroke="#54aa49" transform="rotate(-45 1368.85 925.33)"/>
<ellipse cx="1431.92" cy="925.33" rx="35.66" ry="12.85" fill="#5cac50" stroke="#5cac50" transform="rotate(-45 1431.92 925.33)"/>
<ellipse cx="1494.99" cy="925.33" rx="34.06" ry="16.63" fill="#84ba76" stroke="#84ba76" transform="rotate(-45 1494.99 925.33)"/>
<ellipse cx="1558.06" cy="925.33" rx="33.59" ry="17.58" fill="#8dbf80" stroke="#8dbf80" transform="rotate(-45 1558.06 925.33)"/>
<ellipse cx="1621.12" cy="925.33" rx="33.80" ry="17.16" fill="#89bd7b" stroke="#89bd7b" transform="rotate(-45 1621.12 925.33)"/>
<ellipse cx="1684.19" cy="925.33" rx="35.91" ry="12.15" fill="#56aa4a" stroke="#56aa4a" transform="rotate(-45 1684.19 925.33)"/>
<ellipse cx="1747.26" cy="925.33" rx="35.91" ry="12.15" fill="#56aa4a" stroke="#56aa4a" transform="rotate(-45 1747.26 925.33)"/>
<ellipse cx="1810.33" cy="925.33" rx="35.91" ry="12.15" fill="#56aa4a" stroke="#56aa4a" transform="rotate(-45 1810.33 925.33)"/>
<ellipse cx="1873.40" cy="925.33" rx="35.91" ry="12.15" fill="#56aa4a" stroke="#56aa4a" transform="rotate(-45 1873.40 925.33)"/>
<ellipse cx="1936.47" cy="925.33" rx="35.56" ry="13.13" fill="#5fad53" stroke="#5fad53" transform="rotate(-45 1936.47 925.33)"/>
<ellipse cx="612.03" cy="988.39" rx="34.33" ry="16.08" fill="#7eb870" stroke="#7eb870" transform="rotate(-45 612.03 988.39)"/>
<ellipse cx="675.10" cy="988.39" rx="28.85" ry="24.58" fill="#dfe2d6" stroke="#dfe2d6" transform="rotate(-45 675.10 988.39)"/>
<ellipse cx="738.17" cy="988.39" rx="34.33" ry="16.08" fill="#7eb870" stroke="#7eb870" transform="rotate(-45 738.17 988.39)"/>
<ellipse cx="801.24" cy="988.39" rx="35.86" ry="12.28" fill="#57aa4b" stroke="#57aa4b" transform="rotate(-45 801.24 988.39)"/>
<ellipse cx="864.31" cy="988.39" rx="34.85" ry="14.92" fill="#71b464" stroke="#71b464" transform="rotate(-45 864.31 988.39)"/>
<ellipse cx="927.38" cy="988.39" rx="36.04" ry="11.74" fill="#52a946" stroke="#52a946" transform="rotate(-45 927.38 988.39)"/>
<ellipse cx="990.44" cy="988.39" rx="34.79" ry="15.04" fill="#72b465" stroke="#72b465" transform="rotate(-45 990.44 988.39)"/>
<ellipse cx="1053.51" cy="988.39" rx="27.91" ry="25.65" fill="#ece8e4" stroke="#ece8e4" transform="rotate(-45 1053.51 988.39)"/>
<ellipse cx="1116.58" cy="988.39" rx="28.88" ry="24.55" fill="#fbd4e5" stroke="#fbd4e5" transform="rotate(45 1116.58 988.39)"/>
<ellipse cx="1179.65" cy="988.39" rx="28.26" ry="25.26" fill="#faddea" stroke="#faddea" transform="rotate(45 1179.65 988.39)"/>
<ellipse cx="1242.72" cy="988.39" rx="32.42" ry="19.64" fill="#f999c5" stroke="#f999c5" transform="rotate(45 1242.72 988.39)"/>
<ellipse cx="1305.78" cy="988.39" rx="29.79" ry="23.44" fill="#d1dcc6" stroke="#d1dcc6" transform="rotate(-45 1305.78 988.39)"/>
<ellipse cx="1368.85" cy="988.39" rx="32.34" ry="19.77" fill="#a6ca99" stroke="#a6ca99" transform="rotate(-45 1368.85 988.39)"/>
<ellipse cx="1431.92" cy="988.39" rx="27.60" ry="25.99" fill="#f0eae8" stroke="#f0eae8" transform="rotate(-45 1431.92 988.39)"/>
<ellipse cx="1494.99" cy="988.39" rx="32.58" ry="19.38" fill="#a1c895" stroke="#a1c895" transform="rotate(-45 1494.99 988.39)"/>
<ellipse cx="1558.06" cy="988.39" rx="34.69" ry="15.28" fill="#75b567" stroke="#75b567" transform="rotate(-45 1558.06 988.39)"/>
<ellipse cx="1621.12" cy="988.39" rx="34.53" ry="15.63" fill="#79b66b" stroke="#79b66b" transform="rotate(-45 1621.12 988.39)"/>
<ellipse cx="1684.19" cy="988.39" rx="29.79" ry="23.44" fill="#d1dcc6" stroke="#d1dcc6" transform="rotate(-45 1684.19 988.39)"/>
<ellipse cx="1747.26" cy="988.39" rx="29.79" ry="23.44" fill="#d1dcc6" stroke="#d1dcc6" transform="rotate(-45 1747.26 988.39)"/>
<ellipse cx="1810.33" cy="988.39" rx="29.79" ry="23.44" fill="#d1dcc6" stroke="#d1dcc6" transform="rotate(-45 1810.33 988.39)"/>
<ellipse cx="1873.40" cy="988.39" rx="30.06" ry="23.10" fill="#cddac1" stroke="#cddac1" transform="rotate(-45 1873.40 988.39)"/>
<ellipse cx="1936.47" cy="988.39" rx="29.79" ry="23.44" fill="#d1dcc6" stroke="#d1dcc6" transform="rotate(-45 1936.47 988.39)"/>
<ellipse cx="612.03" cy="1051.46" rx="36.20" ry="11.25" fill="#ef479b" stroke="#ef479b" transform="rotate(45 612.03 1051.46)"/>
<ellipse cx="675.10" cy="1051.46" rx="30.03" ry="23.13" fill="#fbc3db" stroke="#fbc3db" transform="rotate(45 675.10 1051.46)"/>
<ellipse cx="738.17" cy="1051.46" rx="34.27" ry="16.19" fill="#f674b1" stroke="#f674b1" transform="rotate(45 738.17 1051.46)"/>
<ellipse cx="801.24" cy="1051.46" rx="33.33" ry="18.06" fill="#f787bb" stroke="#f787bb" transform="rotate(45 801.24 1051.46)"/>
<ellipse cx="864.31" cy="1051.46" rx="35.31" ry="13.78" fill="#f25ca5" stroke="#f25ca5" transform="rotate(45 864.31 1051.46)"/>
<ellipse cx="927.38" cy="1051.46" rx="36.20" ry="11.25" fill="#ef479b" stroke="#ef479b" transform="rotate(45 927.38 1051.46)"/>
<ellipse cx="990.44" cy="1051.46" rx="36.42" ry="10.51" fill="#ee4298" stroke="#ee4298" transform="rotate(45 990.44 1051.46)"/>
<ellipse cx="1053.51" cy="1051.46" rx="27.54" ry="26.04" fill="#fae5ee" stroke="#fae5ee" transform="rotate(45 1053.51 1051.46)"/>
<ellipse cx="1116.58" cy="1051.46" rx="27.30" ry="26.29" fill="#fae8f0" stroke="#fae8f0" transform="rotate(45 1116.58 1051.46)"/>
<ellipse cx="1179.65" cy="1051.46" rx="27.15" ry="26.45" fill="#faeaf1" stroke="#faeaf1" transform="rotate(45 1179.65 1051.46)"/>
<ellipse cx="1242.72" cy="1051.46" rx="34.86" ry="14.90" fill="#71b364" stroke="#71b364" transform="rotate(-45 1242.72 1051.46)"/>
<ellipse cx="1305.78" cy="1051.46" rx="33.73" ry="17.29" fill="#f67fb7" stroke="#f67fb7" transform="rotate(45 1305.78 1051.46)"/>
<ellipse cx="1368.85" cy="1051.46" rx="33.33" ry="18.06" fill="#f787bb" stroke="#f787bb" transform="rotate(45 1368.85 1051.46)"/>
<ellipse cx="1431.92" cy="1051.46" rx="31.67" ry="20.83" fill="#faa7cd" stroke="#faa7cd" transform="rotate(45 1431.92 1051.46)"/>
<ellipse cx="1494.99" cy="1051.46" rx="33.73" ry="17.29" fill="#f67fb7" stroke="#f67fb7" transform="rotate(45 1494.99 1051.46)"/>
<ellipse cx="1558.06" cy="1051.46" rx="32.93" ry="18.78" fill="#f88fc0" stroke="#f88fc0" transform="rotate(45 1558.06 1051.46)"/>
<ellipse cx="1621.12" cy="1051.46" rx="32.93" ry="18.78" fill="#f88fc0" stroke="#f88fc0" transform="rotate(45 1621.12 1051.46)"/>
<ellipse cx="1684.19" cy="1051.46" rx="34.27" ry="16.19" fill="#f674b1" stroke="#f674b1" transform="rotate(45 1684.19 1051.46)"/>
<ellipse cx="1747.26" cy="1051.46" rx="34.27" ry="16.19" fill="#f674b1" stroke="#f674b1" transform="rotate(45 1747.26 1051.46)"/>
<ellipse cx="1810.33" cy="1051.46" rx="34.27" ry="16.19" fill="#f674b1" stroke="#f674b1" transform="rotate(45 1810.33 1051.46)"/>
<ellipse cx="1873.40" cy="1051.46" rx="34.27" ry="16.19" fill="#f674b1" stroke="#f674b1" transform="rotate(45 1873.40 1051.46)"/>
<ellipse cx="1936.47" cy="1051.46" rx="33.73" ry="17.29" fill="#f67fb7" stroke="#f67fb7" transform="rotate(45 1936.47 1051.46)"/>
<ellipse cx="612.03" cy="1114.53" rx="36.61" ry="9.83" fill="#ed3d95" stroke="#ed3d95" transform="rotate(45 612.03 1114.53)"/>
<ellipse cx="675.10" cy="1114.53" rx="31.81" ry="20.62" fill="#f9a5cb" stroke="#f9a5cb" transform="rotate(45 675.10 1114.53)"/>
<ellipse cx="738.17" cy="1114.53" rx="36.42" ry="10.51" fill="#ee4298" stroke="#ee4298" transform="rotate(45 738.17 1114.53)"/>
<ellipse cx="801.24" cy="1114.53" rx="35.54" ry="13.18" fill="#f157a2" stroke="#f157a2" transform="rotate(45 801.24 1114.53)"/>
<ellipse cx="864.31" cy="1114.53" rx="37.19" ry="7.35" fill="#ea288a" stroke="#ea288a" transform="rotate(45 864.31 1114.53)"/>
<ellipse cx="927.38" cy="1114.53" rx="37.62" ry="4.66" fill="#e81a83" stroke="#e81a83" transform="rotate(45 927.38 1114.53)"/>
<ellipse cx="990.44" cy="1114.53" rx="37.19" ry="7.35" fill="#ea288a" stroke="#ea288a" transform="rotate(45 990.44 1114.53)"/>
<ellipse cx="1053.51" cy="1114.53" rx="30.31" ry="22.77" fill="#fbbed9" stroke="#fbbed9" transform="rotate(45 1053.51 1114.53)"/>
<ellipse cx="1116.58" cy="1114.53" rx="30.31" ry="22.77" fill="#fbbed9" stroke="#fbbed9" transform="rotate(45 1116.58 1114.53)"/>
<ellipse cx="1179.65" cy="1114.53" rx="30.03" ry="23.13" fill="#fbc3db" stroke="#fbc3db" transform="rotate(45 1179.65 1114.53)"/>
<ellipse cx="1242.72" cy="1114.53" rx="37.51" ry="5.44" fill="#139918" stroke="#139918" transform="rotate(-45 1242.72 1114.53)"/>
<ellipse cx="1305.78" cy="1114.53" rx="36.51" ry="10.21" fill="#ee4097" stroke="#ee4097" transform="rotate(45 1305.78 1114.53)"/>
<ellipse cx="1368.85" cy="1114.53" rx="35.73" ry="12.66" fill="#f152a0" stroke="#f152a0" transform="rotate(45 1368.85 1114.53)"/>
<ellipse cx="1431.92" cy="1114.53" rx="35.83" ry="12.38" fill="#f0509f" stroke="#f0509f" transform="rotate(45 1431.92 1114.53)"/>
<ellipse cx="1494.99" cy="1114.53" rx="36.12" ry="11.50" fill="#ef499c" stroke="#ef499c" transform="rotate(45 1494.99 1114.53)"/>
<ellipse cx="1558.06" cy="1114.53" rx="36.51" ry="10.21" fill="#ee4097" stroke="#ee4097" transform="rotate(45 1558.06 1114.53)"/>
<ellipse cx="1621.12" cy="1114.53" rx="36.51" ry="10.21" fill="#ee4097" stroke="#ee4097" transform="rotate(45 1621.12 1114.53)"/>
<ellipse cx="1684.19" cy="1114.53" rx="36.87" ry="8.79" fill="#ec3491" stroke="#ec3491" transform="rotate(45 1684.19 1114.53)"/>
<ellipse cx="1747.26" cy="1114.53" rx="37.00" ry="8.24" fill="#eb308e" stroke="#eb308e" transform="rotate(45 1747.26 1114.53)"/>
<ellipse cx="1810.33" cy="1114.53" rx="37.00" ry="8.24" fill="#eb308e" stroke="#eb308e" transform="rotate(45 1810.33 1114.53)"/>
<ellipse cx="1873.40" cy="1114.53" rx="37.30" ry="6.76" fill="#e92488" stroke="#e92488" transform="rotate(45 1873.40 1114.53)"/>
<ellipse cx="1936.47" cy="1114.53" rx="36.87" ry="8.79" fill="#ec3491" stroke="#ec3491" transform="rotate(45 1936.47 1114.53)"/>
<ellipse cx="612.03" cy="1177.59" rx="34.53" ry="15.64" fill="#f56eae" stroke="#f56eae" transform="rotate(45 612.03 1177.59)"/>
<ellipse cx="675.10" cy="1177.59" rx="29.33" ry="24.02" fill="#fbcee1" stroke="#fbcee1" transform="rotate(45 675.10 1177.59)"/>
<ellipse cx="738.17" cy="1177.59" rx="31.67" ry="20.83" fill="#faa7cd" stroke="#faa7cd" transform="rotate(45 738.17 1177.59)"/>
<ellipse cx="801.24" cy="1177.59" rx="32.05" ry="20.24" fill="#f9a1c9" stroke="#f9a1c9" transform="rotate(45 801.24 1177.59)"/>
<ellipse cx="864.31" cy="1177.59" rx="32.42" ry="19.64" fill="#f999c5" stroke="#f999c5" transform="rotate(45 864.31 1177.59)"/>
<ellipse cx="927.38" cy="1177.59" rx="34.66" ry="15.35" fill="#f56bad" stroke="#f56bad" transform="rotate(45 927.38 1177.59)"/>
<ellipse cx="990.44" cy="1177.59" rx="35.31" ry="13.78" fill="#f25ca5" stroke="#f25ca5" transform="rotate(45 990.44 1177.59)"/>
<ellipse cx="1053.51" cy="1177.59" rx="31.41" ry="21.22" fill="#faaccf" stroke="#faaccf" transform="rotate(45 1053.51 1177.59)"/>
<ellipse cx="1116.58" cy="1177.59" rx="30.03" ry="23.13" fill="#fbc3db" stroke="#fbc3db" transform="rotate(45 1116.58 1177.59)"/>
<ellipse cx="1179.65" cy="1177.59" rx="28.59" ry="24.89" fill="#fbd9e7" stroke="#fbd9e7" transform="rotate(45 1179.65 1177.59)"/>
<ellipse cx="1242.72" cy="1177.59" rx="32.96" ry="18.73" fill="#9ac58d" stroke="#9ac58d" transform="rotate(-45 1242.72 1177.59)"/>
<ellipse cx="1305.78" cy="1177.59" rx="32.66" ry="19.24" fill="#f895c3" stroke="#f895c3" transform="rotate(45 1305.78 1177.59)"/>
<ellipse cx="1368.85" cy="1177.59" rx="32.93" ry="18.78" fill="#f88fc0" stroke="#f88fc0" transform="rotate(45 1368.85 1177.59)"/>
<ellipse cx="1431.92" cy="1177.59" rx="31.41" ry="21.22" fill="#faaccf" stroke="#faaccf" transform="rotate(45 1431.92 1177.59)"/>
<ellipse cx="1494.99" cy="1177.59" rx="34.00" ry="16.75" fill="#f679b4" stroke="#f679b4" transform="rotate(45 1494.99 1177.59)"/>
<ellipse cx="1558.06" cy="1177.59" rx="34.66" ry="15.35" fill="#f56bad" stroke="#f56bad" transform="rotate(45 1558.06 1177.59)"/>
<ellipse cx="1621.12" cy="1177.59" rx="34.66" ry="15.35" fill="#f56bad" stroke="#f56bad" transform="rotate(45 1621.12 1177.59)"/>
<ellipse cx="1684.19" cy="1177.59" rx="32.42" ry="19.64" fill="#f999c5" stroke="#f999c5" transform="rotate(45 1684.19 1177.59)"/>
<ellipse cx="1747.26" cy="1177.59" rx="32.42" ry="19.64" fill="#f999c5" stroke="#f999c5" transform="rotate(45 1747.26 1177.59)"/>
<ellipse cx="1810.33" cy="1177.59" rx="32.42" ry="19.64" fill="#f999c5" stroke="#f999c5" transform="rotate(45 1810.33 1177.59)"/>
<ellipse cx="1873.40" cy="1177.59" rx="32.66" ry="19.24" fill="#f895c3" stroke="#f895c3" transform="rotate(45 1873.40 1177.59)"/>
<ellipse cx="1936.47" cy="1177.59" rx="32.17" ry="20.04" fill="#f99ec8" stroke="#f99ec8" transform="rotate(45 1936.47 1177.59)"/>
<ellipse cx="612.03" cy="1240.66" rx="36.41" ry="10.55" fill="#ee4298" stroke="#ee4298" transform="rotate(45 612.03 1240.66)"/>
<ellipse cx="675.10" cy="1240.66" rx="31.41" ry="21.22" fill="#faaccf" stroke="#faaccf" transform="rotate(45 675.10 1240.66)"/>
<ellipse cx="738.17" cy="1240.66" rx="35.98" ry="11.92" fill="#f04c9d" stroke="#f04c9d" transform="rotate(45 738.17 1240.66)"/>
<ellipse cx="801.24" cy="1240.66" rx="35.31" ry="13.78" fill="#f25ca5" stroke="#f25ca5" transform="rotate(45 801.24 1240.66)"/>
<ellipse cx="864.31" cy="1240.66" rx="36.86" ry="8.85" fill="#ec3591" stroke="#ec3591" transform="rotate(45 864.31 1240.66)"/>
<ellipse cx="927.38" cy="1240.66" rx="37.36" ry="6.41" fill="#e92287" stroke="#e92287" transform="rotate(45 927.38 1240.66)"/>
<ellipse cx="990.44" cy="1240.66" rx="36.94" ry="8.51" fill="#ec3290" stroke="#ec3290" transform="rotate(45 990.44 1240.66)"/>
<ellipse cx="1053.51" cy="1240.66" rx="30.73" ry="22.19" fill="#fab7d5" stroke="#fab7d5" transform="rotate(45 1053.51 1240.66)"/>
<ellipse cx="1116.58" cy="1240.66" rx="30.31" ry="22.77" fill="#fbbed9" stroke="#fbbed9" transform="rotate(45 1116.58 1240.66)"/>
<ellipse cx="1179.65" cy="1240.66" rx="30.03" ry="23.13" fill="#fbc3db" stroke="#fbc3db" transform="rotate(45 1179.65 1240.66)"/>
<ellipse cx="1242.72" cy="1240.66" rx="37.36" ry="6.40" fill="#1b9b1e" stroke="#1b9b1e" transform="rotate(-45 1242.72 1240.66)"/>
<ellipse cx="1305.78" cy="1240.66" rx="36.51" ry="10.21" fill="#ee4097" stroke="#ee4097" transform="rotate(45 1305.78 1240.66)"/>
<ellipse cx="1368.85" cy="1240.66" rx="35.03" ry="14.48" fill="#f362a8" stroke="#f362a8" transform="rotate(45 1368.85 1240.66)"/>
<ellipse cx="1431.92" cy="1240.66" rx="35.53" ry="13.21" fill="#f257a2" stroke="#f257a2" transform="rotate(45 1431.92 1240.66)"/>
<ellipse cx="1494.99" cy="1240.66" rx="35.13" ry="14.23" fill="#f360a7" stroke="#f360a7" transform="rotate(45 1494.99 1240.66)"/>
<ellipse cx="1558.06" cy="1240.66" rx="36.12" ry="11.50" fill="#ef499c" stroke="#ef499c" transform="rotate(45 1558.06 1240.66)"/>
<ellipse cx="1621.12" cy="1240.66" rx="36.12" ry="11.50" fill="#ef499c" stroke="#ef499c" transform="rotate(45 1621.12 1240.66)"/>
<ellipse cx="1684.19" cy="1240.66" rx="36.73" ry="9.38" fill="#ed3993" stroke="#ed3993" transform="rotate(45 1684.19 1240.66)"/>
<ellipse cx="1747.26" cy="1240.66" rx="36.73" ry="9.38" fill="#ed3993" stroke="#ed3993" transform="rotate(45 1747.26 1240.66)"/>
<ellipse cx="1810.33" cy="1240.66" rx="36.87" ry="8.79" fill="#ec3491" stroke="#ec3491" transform="rotate(45 1810.33 1240.66)"/>
<ellipse cx="1873.40" cy="1240.66" rx="37.16" ry="7.49" fill="#ea298b" stroke="#ea298b" transform="rotate(45 1873.40 1240.66)"/>
<ellipse cx="1936.47" cy="1240.66" rx="36.73" ry="9.38" fill="#ed3993" stroke="#ed3993" transform="rotate(45 1936.47 1240.66)"/>
<ellipse cx="612.03" cy="1303.73" rx="34.83" ry="14.95" fill="#f467ab" stroke="#f467ab" transform="rotate(45 612.03 1303.73)"/>
<ellipse cx="675.10" cy="1303.73" rx="31.14" ry="21.61" fill="#fab0d2" stroke="#fab0d2" transform="rotate(45 675.10 1303.73)"/>
<ellipse cx="738.17" cy="1303.73" rx="34.66" ry="15.35" fill="#f56bad" stroke="#f56bad" transform="rotate(45 738.17 1303.73)"/>
<ellipse cx="801.24" cy="1303.73" rx="36.58" ry="9.94" fill="#ee3e96" stroke="#ee3e96" transform="rotate(45 801.24 1303.73)"/>
<ellipse cx="864.31" cy="1303.73" rx="35.88" ry="12.24" fill="#f04f9e" stroke="#f04f9e" transform="rotate(45 864.31 1303.73)"/>
<ellipse cx="927.38" cy="1303.73" rx="36.02" ry="11.80" fill="#f04c9d" stroke="#f04c9d" transform="rotate(45 927.38 1303.73)"/>
<ellipse cx="990.44" cy="1303.73" rx="35.63" ry="12.94" fill="#f155a1" stroke="#f155a1" transform="rotate(45 990.44 1303.73)"/>
<ellipse cx="1053.51" cy="1303.73" rx="35.83" ry="12.38" fill="#f0509f" stroke="#f0509f" transform="rotate(45 1053.51 1303.73)"/>
<ellipse cx="1116.58" cy="1303.73" rx="34.27" ry="16.19" fill="#f674b1" stroke="#f674b1" transform="rotate(45 1116.58 1303.73)"/>
<ellipse cx="1179.65" cy="1303.73" rx="35.05" ry="14.43" fill="#f362a8" stroke="#f362a8" transform="rotate(45 1179.65 1303.73)"/>
<ellipse cx="1242.72" cy="1303.73" rx="36.20" ry="11.24" fill="#4da742" stroke="#4da742" transform="rotate(-45 1242.72 1303.73)"/>
<ellipse cx="1305.78" cy="1303.73" rx="36.51" ry="10.21" fill="#ee4097" stroke="#ee4097" transform="rotate(45 1305.78 1303.73)"/>
<ellipse cx="1368.85" cy="1303.73" rx="37.47" ry="5.72" fill="#e81e85" stroke="#e81e85" transform="rotate(45 1368.85 1303.73)"/>
<ellipse cx="1431.92" cy="1303.73" rx="35.92" ry="12.10" fill="#f04e9e" stroke="#f04e9e" transform="rotate(45 1431.92 1303.73)"/>
<ellipse cx="1494.99" cy="1303.73" rx="37.75" ry="3.47" fill="#e71681" stroke="#e71681" transform="rotate(45 1494.99 1303.73)"/>
<ellipse cx="1558.06" cy="1303.73" rx="35.83" ry="12.38" fill="#f0509f" stroke="#f0509f" transform="rotate(45 1558.06 1303.73)"/>
<ellipse cx="1621.12" cy="1303.73" rx="35.83" ry="12.38" fill="#f0509f" stroke="#f0509f" transform="rotate(45 1621.12 1303.73)"/>
<ellipse cx="1684.19" cy="1303.73" rx="36.02" ry="11.80" fill="#f04c9d" stroke="#f04c9d" transform="rotate(45 1684.19 1303.73)"/>
<ellipse cx="1747.26" cy="1303.73" rx="36.02" ry="11.80" fill="#f04c9d" stroke="#f04c9d" transform="rotate(45 1747.26 1303.73)"/>
<ellipse cx="1810.33" cy="1303.73" rx="36.02" ry="11.80" fill="#f04c9d" stroke="#f04c9d" transform="rotate(45 1810.33 1303.73)"/>
<ellipse cx="1873.40" cy="1303.73" rx="36.22" ry="11.19" fill="#ef479a" stroke="#ef479a" transform="rotate(45 1873.40 1303.73)"/>
<ellipse cx="1936.47" cy="1303.73" rx="36.41" ry="10.55" fill="#ee4298" stroke="#ee4298" transform="rotate(45 1936.47 1303.73)"/>
<ellipse cx="612.03" cy="1366.80" rx="35.88" ry="12.24" fill="#f04f9e" stroke="#f04f9e" transform="rotate(45 612.03 1366.80)"/>
<ellipse cx="675.10" cy="1366.80" rx="29.75" ry="23.49" fill="#fbc7de" stroke="#fbc7de" transform="rotate(45 675.10 1366.80)"/>
<ellipse cx="738.17" cy="1366.80" rx="35.31" ry="13.78" fill="#f25ca5" stroke="#f25ca5" transform="rotate(45 738.17 1366.80)"/>
<ellipse cx="801.24" cy="1366.80" rx="32.93" ry="18.78" fill="#f88fc0" stroke="#f88fc0" transform="rotate(45 801.24 1366.80)"/>
<ellipse cx="864.31" cy="1366.80" rx="34.66" ry="15.35" fill="#f56bad" stroke="#f56bad" transform="rotate(45 864.31 1366.80)"/>
<ellipse cx="927.38" cy="1366.80" rx="34.66" ry="15.35" fill="#f56bad" stroke="#f56bad" transform="rotate(45 927.38 1366.80)"/>
<ellipse cx="990.44" cy="1366.80" rx="32.93" ry="18.78" fill="#f88fc0" stroke="#f88fc0" transform="rotate(45 990.44 1366.80)"/>
<ellipse cx="1053.51" cy="1366.80" rx="33.33" ry="18.06" fill="#f787bb" stroke="#f787bb" transform="rotate(45 1053.51 1366.80)"/>
<ellipse cx="1116.58" cy="1366.80" rx="34.66" ry="15.35" fill="#f56bad" stroke="#f56bad" transform="rotate(45 1116.58 1366.80)"/>
<ellipse cx="1179.65" cy="1366.80" rx="32.93" ry="18.78" fill="#f88fc0" stroke="#f88fc0" transform="rotate(45 1179.65 1366.80)"/>
<ellipse cx="1242.72" cy="1366.80" rx="34.43" ry="15.86" fill="#7bb76e" stroke="#7bb76e" transform="rotate(-45 1242.72 1366.80)"/>
<ellipse cx="1305.78" cy="1366.80" rx="37.26" ry="6.95" fill="#ea2589" stroke="#ea2589" transform="rotate(45 1305.78 1366.80)"/>
<ellipse cx="1368.85" cy="1366.80" rx="36.62" ry="9.80" fill="#ed3d95" stroke="#ed3d95" transform="rotate(45 1368.85 1366.80)"/>
<ellipse cx="1431.92" cy="1366.80" rx="35.92" ry="12.10" fill="#f04e9e" stroke="#f04e9e" transform="rotate(45 1431.92 1366.80)"/>
<ellipse cx="1494.99" cy="1366.80" rx="33.68" ry="17.40" fill="#f780b8" stroke="#f780b8" transform="rotate(45 1494.99 1366.80)"/>
<ellipse cx="1558.06" cy="1366.80" rx="33.13" ry="18.42" fill="#f88bbe" stroke="#f88bbe" transform="rotate(45 1558.06 1366.80)"/>
<ellipse cx="1621.12" cy="1366.80" rx="33.13" ry="18.42" fill="#f88bbe" stroke="#f88bbe" transform="rotate(45 1621.12 1366.80)"/>
<ellipse cx="1684.19" cy="1366.80" rx="37.16" ry="7.49" fill="#ea298b" stroke="#ea298b" transform="rotate(45 1684.19 1366.80)"/>
<ellipse cx="1747.26" cy="1366.80" rx="36.73" ry="9.38" fill="#ed3993" stroke="#ed3993" transform="rotate(45 1747.26 1366.80)"/>
<ellipse cx="1810.33" cy="1366.80" rx="37.30" ry="6.76" fill="#e92488" stroke="#e92488" transform="rotate(45 1810.33 1366.80)"/>
<ellipse cx="1873.40" cy="1366.80" rx="36.87" ry="8.79" fill="#ec3491" stroke="#ec3491" transform="rotate(45 1873.40 1366.80)"/>
<ellipse cx="1936.47" cy="1366.80" rx="36.65" ry="9.66" fill="#ed3b95" stroke="#ed3b95" transform="rotate(45 1936.47 1366.80)"/>
<ellipse cx="612.03" cy="1429.86" rx="36.22" ry="11.19" fill="#ef479a" stroke="#ef479a" transform="rotate(45 612.03 1429.86)"/>
<ellipse cx="675.10" cy="1429.86" rx="31.14" ry="21.61" fill="#fab0d2" stroke="#fab0d2" transform="rotate(45 675.10 1429.86)"/>
<ellipse cx="738.17" cy="1429.86" rx="36.42" ry="10.51" fill="#ee4298" stroke="#ee4298" transform="rotate(45 738.17 1429.86)"/>
<ellipse cx="801.24" cy="1429.86" rx="36.73" ry="9.38" fill="#ed3993" stroke="#ed3993" transform="rotate(45 801.24 1429.86)"/>
<ellipse cx="864.31" cy="1429.86" rx="36.61" ry="9.83" fill="#ed3d95" stroke="#ed3d95" transform="rotate(45 864.31 1429.86)"/>
<ellipse cx="927.38" cy="1429.86" rx="37.26" ry="6.95" fill="#ea2589" stroke="#ea2589" transform="rotate(45 927.38 1429.86)"/>
<ellipse cx="990.44" cy="1429.86" rx="36.42" ry="10.51" fill="#ee4298" stroke="#ee4298" transform="rotate(45 990.44 1429.86)"/>
<ellipse cx="1053.51" cy="1429.86" rx="31.14" ry="21.61" fill="#fab0d2" stroke="#fab0d2" transform="rotate(45 1053.51 1429.86)"/>
<ellipse cx="1116.58" cy="1429.86" rx="30.03" ry="23.13" fill="#fbc3db" stroke="#fbc3db" transform="rotate(45 1116.58 1429.86)"/>
<ellipse cx="1179.65" cy="1429.86" rx="30.03" ry="23.13" fill="#fbc3db" stroke="#fbc3db" transform="rotate(45 1179.65 1429.86)"/>
<ellipse cx="1242.72" cy="1429.86" rx="36.94" ry="8.52" fill="#2fa02d" stroke="#2fa02d" transform="rotate(-45 1242.72 1429.86)"/>
<ellipse cx="1305.78" cy="1429.86" rx="35.98" ry="11.92" fill="#f04c9d" stroke="#f04c9d" transform="rotate(45 1305.78 1429.86)"/>
<ellipse cx="1368.85" cy="1429.86" rx="35.54" ry="13.18" fill="#f157a2" stroke="#f157a2" transform="rotate(45 1368.85 1429.86)"/>
<ellipse cx="1431.92" cy="1429.86" rx="35.31" ry="13.78" fill="#f25ca5" stroke="#f25ca5" transform="rotate(45 1431.92 1429.86)"/>
<ellipse cx="1494.99" cy="1429.86" rx="36.20" ry="11.25" fill="#ef479b" stroke="#ef479b" transform="rotate(45 1494.99 1429.86)"/>
<ellipse cx="1558.06" cy="1429.86" rx="35.54" ry="13.18" fill="#f157a2" stroke="#f157a2" transform="rotate(45 1558.06 1429.86)"/>
<ellipse cx="1621.12" cy="1429.86" rx="35.31" ry="13.78" fill="#f25ca5" stroke="#f25ca5" transform="rotate(45 1621.12 1429.86)"/>
<ellipse cx="1684.19" cy="1429.86" rx="35.98" ry="11.92" fill="#f04c9d" stroke="#f04c9d" transform="rotate(45 1684.19 1429.86)"/>
<ellipse cx="1747.26" cy="1429.86" rx="35.98" ry="11.92" fill="#f04c9d" stroke="#f04c9d" transform="rotate(45 1747.26 1429.86)"/>
<ellipse cx="1810.33" cy="1429.86" rx="35.98" ry="11.92" fill="#f04c9d" stroke="#f04c9d" transform="rotate(45 1810.33 1429.86)"/>
<ellipse cx="1873.40" cy="1429.86" rx="36.31" ry="10.87" fill="#ef4599" stroke="#ef4599" transform="rotate(45 1873.40 1429.86)"/>
<ellipse cx="1936.47" cy="1429.86" rx="35.98" ry="11.92" fill="#f04c9d" stroke="#f04c9d" transform="rotate(45 1936.47 1429.86)"/>
<ellipse cx="612.03" cy="1492.93" rx="36.86" ry="8.85" fill="#ec3591" stroke="#ec3591" transform="rotate(45 612.03 1492.93)"/>
<ellipse cx="675.10" cy="1492.93" rx="32.05" ry="20.24" fill="#f9a1c9" stroke="#f9a1c9" transform="rotate(45 675.10 1492.93)"/>
<ellipse cx="738.17" cy="1492.93" rx="36.42" ry="10.51" fill="#ee4298" stroke="#ee4298" transform="rotate(45 738.17 1492.93)"/>
<ellipse cx="801.24" cy="1492.93" rx="35.88" ry="12.24" fill="#f04f9e" stroke="#f04f9e" transform="rotate(45 801.24 1492.93)"/>
<ellipse cx="864.31" cy="1492.93" rx="36.69" ry="9.52" fill="#ed3a94" stroke="#ed3a94" transform="rotate(45 864.31 1492.93)"/>
<ellipse cx="927.38" cy="1492.93" rx="37.33" ry="6.57" fill="#e92388" stroke="#e92388" transform="rotate(45 927.38 1492.93)"/>
<ellipse cx="990.44" cy="1492.93" rx="37.37" ry="6.37" fill="#e92287" stroke="#e92287" transform="rotate(45 990.44 1492.93)"/>
<ellipse cx="1053.51" cy="1492.93" rx="28.88" ry="24.55" fill="#fbd4e5" stroke="#fbd4e5" transform="rotate(45 1053.51 1492.93)"/>
<ellipse cx="1116.58" cy="1492.93" rx="28.49" ry="25.00" fill="#fadae8" stroke="#fadae8" transform="rotate(45 1116.58 1492.93)"/>
<ellipse cx="1179.65" cy="1492.93" rx="27.58" ry="26.01" fill="#fae5ee" stroke="#fae5ee" transform="rotate(45 1179.65 1492.93)"/>
<ellipse cx="1242.72" cy="1492.93" rx="37.12" ry="7.68" fill="#279e28" stroke="#279e28" transform="rotate(-45 1242.72 1492.93)"/>
<ellipse cx="1305.78" cy="1492.93" rx="35.54" ry="13.18" fill="#f157a2" stroke="#f157a2" transform="rotate(45 1305.78 1492.93)"/>
<ellipse cx="1368.85" cy="1492.93" rx="34.66" ry="15.35" fill="#f56bad" stroke="#f56bad" transform="rotate(45 1368.85 1492.93)"/>
<ellipse cx="1431.92" cy="1492.93" rx="34.27" ry="16.19" fill="#f674b1" stroke="#f674b1" transform="rotate(45 1431.92 1492.93)"/>
<ellipse cx="1494.99" cy="1492.93" rx="35.98" ry="11.92" fill="#f04c9d" stroke="#f04c9d" transform="rotate(45 1494.99 1492.93)"/>
<ellipse cx="1558.06" cy="1492.93" rx="36.31" ry="10.87" fill="#ef4599" stroke="#ef4599" transform="rotate(45 1558.06 1492.93)"/>
<ellipse cx="1621.12" cy="1492.93" rx="36.31" ry="10.87" fill="#ef4599" stroke="#ef4599" transform="rotate(45 1621.12 1492.93)"/>
<ellipse cx="1684.19" cy="1492.93" rx="36.12" ry="11.50" fill="#ef499c" stroke="#ef499c" transform="rotate(45 1684.19 1492.93)"/>
<ellipse cx="1747.26" cy="1492.93" rx="36.12" ry="11.50" fill="#ef499c" stroke="#ef499c" transform="rotate(45 1747.26 1492.93)"/>
<ellipse cx="1810.33" cy="1492.93" rx="36.12" ry="11.50" fill="#ef499c" stroke="#ef499c" transform="rotate(45 1810.33 1492.93)"/>
<ellipse cx="1873.40" cy="1492.93" rx="36.41" ry="10.55" fill="#ee4298" stroke="#ee4298" transform="rotate(45 1873.40 1492.93)"/>
<ellipse cx="1936.47" cy="1492.93" rx="35.98" ry="11.92" fill="#f04c9d" stroke="#f04c9d" transform="rotate(45 1936.47 1492.93)"/>
<ellipse cx="612.03" cy="1556.00" rx="36.86" ry="8.85" fill="#ec3591" stroke="#ec3591" transform="rotate(45 612.03 1556.00)"/>
<ellipse cx="675.10" cy="1556.00" rx="32.05" ry="20.24" fill="#f9a1c9" stroke="#f9a1c9" transform="rotate(45 675.10 1556.00)"/>
<ellipse cx="738.17" cy="1556.00" rx="36.42" ry="10.51" fill="#ee4298" stroke="#ee4298" transform="rotate(45 738.17 1556.00)"/>
<ellipse cx="801.24" cy="1556.00" rx="35.88" ry="12.24" fill="#f04f9e" stroke="#f04f9e" transform="rotate(45 801.24 1556.00)"/>
<ellipse cx="864.31" cy="1556.00" rx="36.69" ry="9.52" fill="#ed3a94" stroke="#ed3a94" transform="rotate(45 864.31 1556.00)"/>
<ellipse cx="927.38" cy="1556.00" rx="37.33" ry="6.57" fill="#e92388" stroke="#e92388" transform="rotate(45 927.38 1556.00)"/>
<ellipse cx="990.44" cy="1556.00" rx="37.37" ry="6.37" fill="#e92287" stroke="#e92287" transform="rotate(45 990.44 1556.00)"/>
<ellipse cx="1053.51" cy="1556.00" rx="28.49" ry="25.00" fill="#fadae8" stroke="#fadae8" transform="rotate(45 1053.51 1556.00)"/>
<ellipse cx="1116.58" cy="1556.00" rx="28.33" ry="25.19" fill="#fadce9" stroke="#fadce9" transform="rotate(45 1116.58 1556.00)"/>
<ellipse cx="1179.65" cy="1556.00" rx="27.32" ry="26.28" fill="#fae8f0" stroke="#fae8f0" transform="rotate(45 1179.65 1556.00)"/>
<ellipse cx="1242.72" cy="1556.00" rx="37.12" ry="7.68" fill="#279e28" stroke="#279e28" transform="rotate(-45 1242.72 1556.00)"/>
<ellipse cx="1305.78" cy="1556.00" rx="35.31" ry="13.78" fill="#f25ca5" stroke="#f25ca5" transform="rotate(45 1305.78 1556.00)"/>
<ellipse cx="1368.85" cy="1556.00" rx="34.27" ry="16.19" fill="#f674b1" stroke="#f674b1" transform="rotate(45 1368.85 1556.00)"/>
<ellipse cx="1431.92" cy="1556.00" rx="33.73" ry="17.29" fill="#f67fb7" stroke="#f67fb7" transform="rotate(45 1431.92 1556.00)"/>
<ellipse cx="1494.99" cy="1556.00" rx="35.88" ry="12.24" fill="#f04f9e" stroke="#f04f9e" transform="rotate(45 1494.99 1556.00)"/>
<ellipse cx="1558.06" cy="1556.00" rx="36.12" ry="11.50" fill="#ef499c" stroke="#ef499c" transform="rotate(45 1558.06 1556.00)"/>
<ellipse cx="1621.12" cy="1556.00" rx="36.12" ry="11.50" fill="#ef499c" stroke="#ef499c" transform="rotate(45 1621.12 1556.00)"/>
<ellipse cx="1684.19" cy="1556.00" rx="35.73" ry="12.66" fill="#f152a0" stroke="#f152a0" transform="rotate(45 1684.19 1556.00)"/>
<ellipse cx="1747.26" cy="1556.00" rx="35.73" ry="12.66" fill="#f152a0" stroke="#f152a0" transform="rotate(45 1747.26 1556.00)"/>
<ellipse cx="1810.33" cy="1556.00" rx="35.73" ry="12.66" fill="#f152a0" stroke="#f152a0" transform="rotate(45 1810.33 1556.00)"/>
<ellipse cx="1873.40" cy="1556.00" rx="36.12" ry="11.50" fill="#ef499c" stroke="#ef499c" transform="rotate(45 1873.40 1556.00)"/>
<ellipse cx="1936.47" cy="1556.00" rx="35.76" ry="12.58" fill="#f152a0" stroke="#f152a0" transform="rotate(45 1936.47 1556.00)"/>
<ellipse cx="612.03" cy="1619.07" rx="37.06" ry="7.97" fill="#eb2d8d" stroke="#eb2d8d" transform="rotate(45 612.03 1619.07)"/>
<ellipse cx="675.10" cy="1619.07" rx="31.41" ry="21.22" fill="#faaccf" stroke="#faaccf" transform="rotate(45 675.10 1619.07)"/>
<ellipse cx="738.17" cy="1619.07" rx="35.54" ry="13.18" fill="#f157a2" stroke="#f157a2" transform="rotate(45 738.17 1619.07)"/>
<ellipse cx="801.24" cy="1619.07" rx="34.00" ry="16.75" fill="#f679b4" stroke="#f679b4" transform="rotate(45 801.24 1619.07)"/>
<ellipse cx="864.31" cy="1619.07" rx="36.61" ry="9.83" fill="#ed3d95" stroke="#ed3d95" transform="rotate(45 864.31 1619.07)"/>
<ellipse cx="927.38" cy="1619.07" rx="37.19" ry="7.35" fill="#ea288a" stroke="#ea288a" transform="rotate(45 927.38 1619.07)"/>
<ellipse cx="990.44" cy="1619.07" rx="36.94" ry="8.51" fill="#ec3290" stroke="#ec3290" transform="rotate(45 990.44 1619.07)"/>
<ellipse cx="1053.51" cy="1619.07" rx="30.73" ry="22.19" fill="#fab7d5" stroke="#fab7d5" transform="rotate(45 1053.51 1619.07)"/>
<ellipse cx="1116.58" cy="1619.07" rx="31.14" ry="21.61" fill="#fab0d2" stroke="#fab0d2" transform="rotate(45 1116.58 1619.07)"/>
<ellipse cx="1179.65" cy="1619.07" rx="30.31" ry="22.77" fill="#fbbed9" stroke="#fbbed9" transform="rotate(45 1179.65 1619.07)"/>
<ellipse cx="1242.72" cy="1619.07" rx="36.85" ry="8.89" fill="#33a130" stroke="#33a130" transform="rotate(-45 1242.72 1619.07)"/>
<ellipse cx="1305.78" cy="1619.07" rx="36.87" ry="8.79" fill="#ec3491" stroke="#ec3491" transform="rotate(45 1305.78 1619.07)"/>
<ellipse cx="1368.85" cy="1619.07" rx="35.98" ry="11.92" fill="#f04c9d" stroke="#f04c9d" transform="rotate(45 1368.85 1619.07)"/>
<ellipse cx="1431.92" cy="1619.07" rx="35.98" ry="11.92" fill="#f04c9d" stroke="#f04c9d" transform="rotate(45 1431.92 1619.07)"/>
<ellipse cx="1494.99" cy="1619.07" rx="35.31" ry="13.78" fill="#f25ca5" stroke="#f25ca5" transform="rotate(45 1494.99 1619.07)"/>
<ellipse cx="1558.06" cy="1619.07" rx="35.88" ry="12.24" fill="#f04f9e" stroke="#f04f9e" transform="rotate(45 1558.06 1619.07)"/>
<ellipse cx="1621.12" cy="1619.07" rx="35.54" ry="13.18" fill="#f157a2" stroke="#f157a2" transform="rotate(45 1621.12 1619.07)"/>
<ellipse cx="1684.19" cy="1619.07" rx="37.05" ry="8.00" fill="#eb2d8d" stroke="#eb2d8d" transform="rotate(45 1684.19 1619.07)"/>
<ellipse cx="1747.26" cy="1619.07" rx="37.16" ry="7.49" fill="#ea298b" stroke="#ea298b" transform="rotate(45 1747.26 1619.07)"/>
<ellipse cx="1810.33" cy="1619.07" rx="37.16" ry="7.49" fill="#ea298b" stroke="#ea298b" transform="rotate(45 1810.33 1619.07)"/>
<ellipse cx="1873.40" cy="1619.07" rx="37.37" ry="6.37" fill="#e92287" stroke="#e92287" transform="rotate(45 1873.40 1619.07)"/>
<ellipse cx="1936.47" cy="1619.07" rx="37.00" ry="8.24" fill="#eb308e" stroke="#eb308e" transform="rotate(45 1936.47 1619.07)"/>
</g>
<g stroke="#c1c1c1" stroke-width="2.7" fill="none">
<line x1="580.50" y1="198.75" x2="580.50" y2="1651.90"/>
<line x1="643.57" y1="198.75" x2="643.57" y2="1651.90"/>
<line x1="706.64" y1="198.75" x2="706.64" y2="1651.90"/>
<line x1="769.70" y1="198.75" x2="769.70" y2="1651.90"/>
<line x1="832.77" y1="198.75" x2="832.77" y2="1651.90"/>
<line x1="895.84" y1="198.75" x2="895.84" y2="1651.90"/>
<line x1="958.91" y1="198.75" x2="958.91" y2="1651.90"/>
<line x1="1021.98" y1="198.75" x2="1021.98" y2="1651.90"/>
<line x1="1085.05" y1="198.75" x2="1085.05" y2="1651.90"/>
<line x1="1148.11" y1="198.75" x2="1148.11" y2="1651.90"/>
<line x1="1211.18" y1="198.75" x2="1211.18" y2="1651.90"/>
<line x1="1274.25" y1="198.75" x2="1274.25" y2="1651.90"/>
<line x1="1337.32" y1="198.75" x2="1337.32" y2="1651.90"/>
<line x1="1400.39" y1="198.75" x2="1400.39" y2="1651.90"/>
<line x1="1463.45" y1="198.75" x2="1463.45" y2="1651.90"/>
<line x1="1526.52" y1="198.75" x2="1526.52" y2="1651.90"/>
<line x1="1589.59" y1="198.75" x2="1589.59" y2="1651.90"/>
<line x1="1652.66" y1="198.75" x2="1652.66" y2="1651.90"/>
<line x1="1715.73" y1="198.75" x2="1715.73" y2="1651.90"/>
<line x1="1778.80" y1="198.75" x2="1778.80" y2="1651.90"/>
<line x1="1841.86" y1="198.75" x2="1841.86" y2="1651.90"/>
<line x1="1904.93" y1="198.75" x2="1904.93" y2="1651.90"/>
<line x1="1968.00" y1="198.75" x2="1968.00" y2="1651.90"/>
<line x1="579.20" y1="200.05" x2="1969.30" y2="200.05"/>
<line x1="579.20" y1="263.12" x2="1969.30" y2="263.12"/>
<line x1="579.20" y1="326.18" x2="1969.30" y2="326.18"/>
<line x1="579.20" y1="389.25" x2="1969.30" y2="389.25"/>
<line x1="579.20" y1="452.32" x2="1969.30" y2="452.32"/>
<line x1="579.20" y1="515.39" x2="1969.30" y2="515.39"/>
<line x1="579.20" y1="578.45" x2="1969.30" y2="578.45"/>
<line x1="579.20" y1="641.52" x2="1969.30" y2="641.52"/>
<line x1="579.20" y1="704.59" x2="1969.30" y2="704.59"/>
<line x1="579.20" y1="767.66" x2="1969.30" y2="767.66"/>
<line x1="579.20" y1="830.72" x2="1969.30" y2="830.72"/>
<line x1="579.20" y1="893.79" x2="1969.30" y2="893.79"/>
<line x1="579.20" y1="956.86" x2="1969.30" y2="956.86"/>
<line x1="579.20" y1="1019.93" x2="1969.30" y2="1019.93"/>
<line x1="579.20" y1="1082.99" x2="1969.30" y2="1082.99"/>
<line x1="579.20" y1="1146.06" x2="1969.30" y2="1146.06"/>
<line x1="579.20" y1="1209.13" x2="1969.30" y2="1209.13"/>
<line x1="579.20" y1="1272.20" x2="1969.30" y2="1272.20"/>
<line x1="579.20" y1="1335.26" x2="1969.30" y2="1335.26"/>
<line x1="579.20" y1="1398.33" x2="1969.30" y2="1398.33"/>
<line x1="579.20" y1="1461.40" x2="1969.30" y2="1461.40"/>
<line x1="579.20" y1="1524.47" x2="1969.30" y2="1524.47"/>
<line x1="579.20" y1="1587.53" x2="1969.30" y2="1587.53"/>
<line x1="579.20" y1="1650.60" x2="1969.30" y2="1650.60"/>
</g>
<g font-size="21" text-anchor="middle" stroke="#000" stroke-width="0.7" stroke-linejoin="round">
<text x="612.03" y="241.45">**</text>
<text x="738.17" y="241.45">*</text>
<text x="801.24" y="241.45">**</text>
<text x="864.31" y="241.45">**</text>
<text x="927.38" y="241.45">**</text>
<text x="990.44" y="241.45">**</text>
<text x="1242.72" y="241.45">*</text>
<text x="1305.78" y="241.45">*</text>
<text x="1368.85" y="241.45">**</text>
<text x="1494.99" y="241.45">**</text>
<text x="1558.06" y="241.45">**</text>
<text x="1621.12" y="241.45">**</text>
<text x="1684.19" y="241.45">*</text>
<text x="1747.26" y="241.45">*</text>
<text x="1810.33" y="241.45">*</text>
<text x="1873.40" y="241.45">*</text>
<text x="1936.47" y="241.45">*</text>
<text x="612.03" y="304.52">*</text>
<text x="1179.65" y="304.52">*</text>
<text x="1305.78" y="304.52">**</text>
<text x="1368.85" y="304.52">*</text>
<text x="1431.92" y="304.52">*</text>
<text x="1684.19" y="304.52">*</text>
<text x="1747.26" y="304.52">**</text>
<text x="1810.33" y="304.52">*</text>
<text x="1873.40" y="304.52">*</text>
<text x="1936.47" y="304.52">*</text>
<text x="612.03" y="367.59">**</text>
<text x="738.17" y="367.59">*</text>
<text x="801.24" y="367.59">**</text>
<text x="864.31" y="367.59">**</text>
<text x="927.38" y="367.59">**</text>
<text x="990.44" y="367.59">**</text>
<text x="1242.72" y="367.59">*</text>
<text x="1305.78" y="367.59">**</text>
<text x="1368.85" y="367.59">**</text>
<text x="1494.99" y="367.59">**</text>
<text x="1558.06" y="367.59">**</text>
<text x="1621.12" y="367.59">**</text>
<text x="1684.19" y="367.59">*</text>
<text x="1747.26" y="367.59">*</text>
<text x="1810.33" y="367.59">*</text>
<text x="1873.40" y="367.59">*</text>
<text x="1936.47" y="367.59">*</text>
<text x="612.03" y="430.66">**</text>
<text x="801.24" y="430.66">*</text>
<text x="990.44" y="430.66">*</text>
<text x="1053.51" y="430.66">*</text>
<text x="1116.58" y="430.66">*</text>
<text x="1179.65" y="430.66">*</text>
<text x="1305.78" y="430.66">**</text>
<text x="1368.85" y="430.66">**</text>
<text x="1431.92" y="430.66">**</text>
<text x="1494.99" y="430.66">*</text>
<text x="1558.06" y="430.66">*</text>
<text x="1621.12" y="430.66">*</text>
<text x="1684.19" y="430.66">**</text>
<text x="1747.26" y="430.66">**</text>
<text x="1810.33" y="430.66">**</text>
<text x="1873.40" y="430.66">*</text>
<text x="1936.47" y="430.66">*</text>
<text x="612.03" y="493.72">**</text>
<text x="801.24" y="493.72">*</text>
<text x="990.44" y="493.72">*</text>
<text x="1053.51" y="493.72">*</text>
<text x="1116.58" y="493.72">*</text>
<text x="1179.65" y="493.72">*</text>
<text x="1305.78" y="493.72">**</text>
<text x="1368.85" y="493.72">**</text>
<text x="1431.92" y="493.72">**</text>
<text x="1494.99" y="493.72">*</text>
<text x="1558.06" y="493.72">*</text>
<text x="1621.12" y="493.72">*</text>
<text x="1684.19" y="493.72">**</text>
<text x="1747.26" y="493.72">**</text>
<text x="1810.33" y="493.72">**</text>
<text x="1873.40" y="493.72">*</text>
<text x="1936.47" y="493.72">*</text>
<text x="612.03" y="556.79">**</text>
<text x="801.24" y="556.79">*</text>
<text x="990.44" y="556.79">*</text>
<text x="1053.51" y="556.79">*</text>
<text x="1116.58" y="556.79">*</text>
<text x="1179.65" y="556.79">*</text>
<text x="1305.78" y="556.79">**</text>
<text x="1368.85" y="556.79">**</text>
<text x="1431.92" y="556.79">**</text>
<text x="1494.99" y="556.79">*</text>
<text x="1558.06" y="556.79">*</text>
<text x="1621.12" y="556.79">*</text>
<text x="1684.19" y="556.79">**</text>
<text x="1747.26" y="556.79">**</text>
<text x="1810.33" y="556.79">**</text>
<text x="1873.40" y="556.79">*</text>
<text x="1936.47" y="556.79">*</text>
<text x="612.03" y="619.86">**</text>
<text x="801.24" y="619.86">*</text>
<text x="990.44" y="619.86">*</text>
<text x="1053.51" y="619.86">*</text>
<text x="1116.58" y="619.86">*</text>
<text x="1179.65" y="619.86">*</text>
<text x="1305.78" y="619.86">**</text>
<text x="1368.85" y="619.86">**</text>
<text x="1431.92" y="619.86">**</text>
<text x="1494.99" y="619.86">*</text>
<text x="1558.06" y="619.86">*</text>
<text x="1621.12" y="619.86">*</text>
<text x="1684.19" y="619.86">**</text>
<text x="1747.26" y="619.86">**</text>
<text x="1810.33" y="619.86">**</text>
<text x="1873.40" y="619.86">*</text>
<text x="1936.47" y="619.86">*</text>
<text x="1053.51" y="682.93">*</text>
<text x="1116.58" y="682.93">**</text>
<text x="1179.65" y="682.93">*</text>
<text x="1305.78" y="682.93">**</text>
<text x="1368.85" y="682.93">**</text>
<text x="1431.92" y="682.93">**</text>
<text x="1494.99" y="682.93">*</text>
<text x="1684.19" y="682.93">**</text>
<text x="1747.26" y="682.93">**</text>
<text x="1810.33" y="682.93">**</text>
<text x="1873.40" y="682.93">**</text>
<text x="1936.47" y="682.93">**</text>
<text x="1053.51" y="745.99">*</text>
<text x="1116.58" y="745.99">**</text>
<text x="1179.65" y="745.99">*</text>
<text x="1305.78" y="745.99">**</text>
<text x="1368.85" y="745.99">**</text>
<text x="1431.92" y="745.99">**</text>
<text x="1494.99" y="745.99">*</text>
<text x="1684.19" y="745.99">**</text>
<text x="1747.26" y="745.99">**</text>
<text x="1810.33" y="745.99">**</text>
<text x="1873.40" y="745.99">**</text>
<text x="1936.47" y="745.99">**</text>
<text x="1053.51" y="809.06">*</text>
<text x="1116.58" y="809.06">**</text>
<text x="1179.65" y="809.06">*</text>
<text x="1305.78" y="809.06">**</text>
<text x="1368.85" y="809.06">**</text>
<text x="1431.92" y="809.06">**</text>
<text x="1494.99" y="809.06">*</text>
<text x="1684.19" y="809.06">**</text>
<text x="1747.26" y="809.06">**</text>
<text x="1810.33" y="809.06">**</text>
<text x="1873.40" y="809.06">**</text>
<text x="1936.47" y="809.06">**</text>
<text x="612.03" y="872.13">*</text>
<text x="1053.51" y="872.13">*</text>
<text x="1116.58" y="872.13">**</text>
<text x="1179.65" y="872.13">*</text>
<text x="1305.78" y="872.13">**</text>
<text x="1368.85" y="872.13">**</text>
<text x="1431.92" y="872.13">**</text>
<text x="1494.99" y="872.13">**</text>
<text x="1558.06" y="872.13">*</text>
<text x="1621.12" y="872.13">*</text>
<text x="1684.19" y="872.13">**</text>
<text x="1747.26" y="872.13">**</text>
<text x="1810.33" y="872.13">**</text>
<text x="1873.40" y="872.13">**</text>
<text x="1936.47" y="872.13">**</text>
<text x="1116.58" y="935.20">*</text>
<text x="1305.78" y="935.20">**</text>
<text x="1368.85" y="935.20">*</text>
<text x="1431.92" y="935.20">*</text>
<text x="1684.19" y="935.20">*</text>
<text x="1747.26" y="935.20">*</text>
<text x="1810.33" y="935.20">*</text>
<text x="1873.40" y="935.20">*</text>
<text x="1936.47" y="935.20">*</text>
<text x="801.24" y="998.26">*</text>
<text x="864.31" y="998.26">*</text>
<text x="927.38" y="998.26">*</text>
<text x="990.44" y="998.26">*</text>
<text x="612.03" y="1061.33">**</text>
<text x="864.31" y="1061.33">*</text>
<text x="927.38" y="1061.33">**</text>
<text x="990.44" y="1061.33">**</text>
<text x="1242.72" y="1061.33">*</text>
<text x="612.03" y="1124.40">**</text>
<text x="738.17" y="1124.40">**</text>
<text x="801.24" y="1124.40">*</text>
<text x="864.31" y="1124.40">**</text>
<text x="927.38" y="1124.40">**</text>
<text x="990.44" y="1124.40">**</text>
<text x="1242.72" y="1124.40">**</text>
<text x="1305.78" y="1124.40">**</text>
<text x="1368.85" y="1124.40">*</text>
<text x="1431.92" y="1124.40">*</text>
<text x="1494.99" y="1124.40">*</text>
<text x="1558.06" y="1124.40">**</text>
<text x="1621.12" y="1124.40">**</text>
<text x="1684.19" y="1124.40">**</text>
<text x="1747.26" y="1124.40">**</text>
<text x="1810.33" y="1124.40">**</text>
<text x="1873.40" y="1124.40">**</text>
<text x="1936.47" y="1124.40">**</text>
<text x="927.38" y="1187.46">*</text>
<text x="990.44" y="1187.46">*</text>
<text x="1558.06" y="1187.46">*</text>
<text x="1621.12" y="1187.46">*</text>
<text x="612.03" y="1250.53">**</text>
<text x="738.17" y="1250.53">*</text>
<text x="801.24" y="1250.53">*</text>
<text x="864.31" y="1250.53">**</text>
<text x="927.38" y="1250.53">**</text>
<text x="990.44" y="1250.53">**</text>
<text x="1242.72" y="1250.53">**</text>
<text x="1305.78" y="1250.53">**</text>
<text x="1368.85" y="1250.53">*</text>
<text x="1431.92" y="1250.53">*</text>
<text x="1494.99" y="1250.53">*</text>
<text x="1558.06" y="1250.53">**</text>
<text x="1621.12" y="1250.53">**</text>
<text x="1684.19" y="1250.53">**</text>
<text x="1747.26" y="1250.53">**</text>
<text x="1810.33" y="1250.53">**</text>
<text x="1873.40" y="1250.53">**</text>
<text x="1936.47" y="1250.53">**</text>
<text x="612.03" y="1313.60">*</text>
<text x="801.24" y="1313.60">**</text>
<text x="864.31" y="1313.60">*</text>
<text x="927.38" y="1313.60">**</text>
<text x="990.44" y="1313.60">*</text>
<text x="1053.51" y="1313.60">*</text>
<text x="1179.65" y="1313.60">*</text>
<text x="1242.72" y="1313.60">**</text>
<text x="1305.78" y="1313.60">**</text>
<text x="1368.85" y="1313.60">**</text>
<text x="1431.92" y="1313.60">**</text>
<text x="1494.99" y="1313.60">**</text>
<text x="1558.06" y="1313.60">**</text>
<text x="1621.12" y="1313.60">**</text>
<text x="1684.19" y="1313.60">**</text>
<text x="1747.26" y="1313.60">**</text>
<text x="1810.33" y="1313.60">**</text>
<text x="1873.40" y="1313.60">**</text>
<text x="1936.47" y="1313.60">**</text>
<text x="612.03" y="1376.67">*</text>
<text x="738.17" y="1376.67">*</text>
<text x="864.31" y="1376.67">*</text>
<text x="927.38" y="1376.67">*</text>
<text x="1116.58" y="1376.67">*</text>
<text x="1242.72" y="1376.67">*</text>
<text x="1305.78" y="1376.67">**</text>
<text x="1368.85" y="1376.67">**</text>
<text x="1431.92" y="1376.67">*</text>
<text x="1684.19" y="1376.67">**</text>
<text x="1747.26" y="1376.67">**</text>
<text x="1810.33" y="1376.67">**</text>
<text x="1873.40" y="1376.67">**</text>
<text x="1936.47" y="1376.67">**</text>
<text x="612.03" y="1439.73">*</text>
<text x="738.17" y="1439.73">**</text>
<text x="801.24" y="1439.73">**</text>
<text x="864.31" y="1439.73">**</text>
<text x="927.38" y="1439.73">**</text>
<text x="990.44" y="1439.73">**</text>
<text x="1242.72" y="1439.73">**</text>
<text x="1305.78" y="1439.73">*</text>
<text x="1368.85" y="1439.73">*</text>
<text x="1431.92" y="1439.73">*</text>
<text x="1494.99" y="1439.73">*</text>
<text x="1558.06" y="1439.73">*</text>
<text x="1621.12" y="1439.73">*</text>
<text x="1684.19" y="1439.73">*</text>
<text x="1747.26" y="1439.73">*</text>
<text x="1810.33" y="1439.73">*</text>
<text x="1873.40" y="1439.73">**</text>
<text x="1936.47" y="1439.73">*</text>
<text x="612.03" y="1502.80">**</text>
<text x="738.17" y="1502.80">**</text>
<text x="801.24" y="1502.80">*</text>
<text x="864.31" y="1502.80">**</text>
<text x="927.38" y="1502.80">**</text>
<text x="990.44" y="1502.80">**</text>
<text x="1242.72" y="1502.80">**</text>
<text x="1305.78" y="1502.80">*</text>
<text x="1494.99" y="1502.80">*</text>
<text x="1558.06" y="1502.80">**</text>
<text x="1621.12" y="1502.80">**</text>
<text x="1684.19" y="1502.80">**</text>
<text x="1747.26" y="1502.80">**</text>
<text x="1810.33" y="1502.80">**</text>
<text x="1873.40" y="1502.80">**</text>
<text x="1936.47" y="1502.80">*</text>
<text x="612.03" y="1565.87">**</text>
<text x="738.17" y="1565.87">**</text>
<text x="801.24" y="1565.87">*</text>
<text x="864.31" y="1565.87">**</text>
<text x="927.38" y="1565.87">**</text>
<text x="990.44" y="1565.87">**</text>
<text x="1242.72" y="1565.87">**</text>
<text x="1305.78" y="1565.87">*</text>
<text x="1494.99" y="1565.87">*</text>
<text x="1558.06" y="1565.87">**</text>
<text x="1621.12" y="1565.87">**</text>
<text x="1684.19" y="1565.87">*</text>
<text x="1747.26" y="1565.87">*</text>
<text x="1810.33" y="1565.87">*</text>
<text x="1873.40" y="1565.87">**</text>
<text x="1936.47" y="1565.87">*</text>
<text x="612.03" y="1628.94">**</text>
<text x="738.17" y="1628.94">*</text>
<text x="864.31" y="1628.94">**</text>
<text x="927.38" y="1628.94">**</text>
<text x="990.44" y="1628.94">**</text>
<text x="1242.72" y="1628.94">**</text>
<text x="1305.78" y="1628.94">**</text>
<text x="1368.85" y="1628.94">*</text>
<text x="1431.92" y="1628.94">*</text>
<text x="1494.99" y="1628.94">*</text>
<text x="1558.06" y="1628.94">*</text>
<text x="1621.12" y="1628.94">*</text>
<text x="1684.19" y="1628.94">**</text>
<text x="1747.26" y="1628.94">**</text>
<text x="1810.33" y="1628.94">**</text>
<text x="1873.40" y="1628.94">**</text>
<text x="1936.47" y="1628.94">**</text>
</g>
<g font-size="38" text-anchor="end">
<text x="559.6" y="240.18">f_Peptostreptococcaceae</text>
<text x="559.6" y="303.25">g_Allobaculum</text>
<text x="559.6" y="366.32">g_SMB53</text>
<text x="559.6" y="429.39">p_TM7</text>
<text x="559.6" y="492.45">o_CW040</text>
<text x="559.6" y="555.52">c_TM7−3</text>
<text x="559.6" y="618.59">f_F16</text>
<text x="559.6" y="681.66">f_Desulfovibrionaceae</text>
<text x="559.6" y="744.72">o_Desulfovibrionales</text>
<text x="559.6" y="807.79">c_Deltaproteobacteria</text>
<text x="559.6" y="870.86">g_Desulfovibrio</text>
<text x="559.6" y="933.93">p_Proteobacteria</text>
<text x="559.6" y="996.99">f_Clostridiaceae_g_Clostridium</text>
<text x="559.6" y="1060.06">f_Lachnospiraceae</text>
<text x="559.6" y="1123.13">f_Streptococcaceae</text>
<text x="559.6" y="1186.19">p_Actinobacteria</text>
<text x="559.6" y="1249.26">g_Streptococcus</text>
<text x="559.6" y="1312.33">g_Odoribacter</text>
<text x="559.6" y="1375.40">f_[Odoribacteraceae]</text>
<text x="559.6" y="1438.46">o_Bacillales</text>
<text x="559.6" y="1501.53">f_Leuconostocaceae</text>
<text x="559.6" y="1564.60">g_Leuconostoc</text>
<text x="559.6" y="1627.67">c_Actinobacteria</text>
</g>
<g font-size="30.3">
<text transform="translate(633.95 189.5) rotate(-90)">BW</text>
<text transform="translate(696.27 189.5) rotate(-90)">BAT</text>
<text transform="translate(758.59 189.5) rotate(-90)">EAT</text>
<text transform="translate(820.91 189.5) rotate(-90)">SAT</text>
<text transform="translate(883.23 189.5) rotate(-90)">VAT</text>
<text transform="translate(945.55 189.5) rotate(-90)">Fat pad</text>
<text transform="translate(1007.87 189.5) rotate(-90)">LW</text>
<text transform="translate(1070.19 189.5) rotate(-90)">TNF-α</text>
<text transform="translate(1132.51 189.5) rotate(-90)">IL-6</text>
<text transform="translate(1194.83 189.5) rotate(-90)">IL-1β</text>
<text transform="translate(1257.15 189.5) rotate(-90)">IL-10</text>
<text transform="translate(1319.47 189.5) rotate(-90)">PGF2α</text>
<text transform="translate(1381.79 189.5) rotate(-90)">LTB4</text>
<text transform="translate(1444.11 189.5) rotate(-90)">11,12-EET</text>
<text transform="translate(1506.43 189.5) rotate(-90)">5,6-DHET</text>
<text transform="translate(1568.75 189.5) rotate(-90)">8,9-DHET</text>
<text transform="translate(1631.07 189.5) rotate(-90)">11,12-DHET</text>
<text transform="translate(1693.39 189.5) rotate(-90)">5-HETE</text>
<text transform="translate(1755.71 189.5) rotate(-90)">8-HETE</text>
<text transform="translate(1818.03 189.5) rotate(-90)">9-HETE</text>
<text transform="translate(1880.35 189.5) rotate(-90)">12-HETE</text>
<text transform="translate(1942.67 189.5) rotate(-90)">15-HETE</text>
</g>
<rect x="1994.8" y="199.60" width="71.50" height="1451.30" fill="url(#cb)" stroke="#000" stroke-width="2.8"/>
<g stroke="#000" stroke-width="2.7">
<line x1="2066.3" y1="199.60" x2="2081.4" y2="199.60"/>
<line x1="2066.3" y1="344.73" x2="2081.4" y2="344.73"/>
<line x1="2066.3" y1="489.86" x2="2081.4" y2="489.86"/>
<line x1="2066.3" y1="634.99" x2="2081.4" y2="634.99"/>
<line x1="2066.3" y1="780.12" x2="2081.4" y2="780.12"/>
<line x1="2066.3" y1="925.25" x2="2081.4" y2="925.25"/>
<line x1="2066.3" y1="1070.38" x2="2081.4" y2="1070.38"/>
<line x1="2066.3" y1="1215.51" x2="2081.4" y2="1215.51"/>
<line x1="2066.3" y1="1360.64" x2="2081.4" y2="1360.64"/>
<line x1="2066.3" y1="1505.77" x2="2081.4" y2="1505.77"/>
<line x1="2066.3" y1="1650.90" x2="2081.4" y2="1650.90"/>
</g>
<g font-size="31.4">
<text x="2107.3" y="207.70">0.9</text>
<text x="2107.3" y="352.83">0.72</text>
<text x="2107.3" y="497.96">0.55</text>
<text x="2107.3" y="643.09">0.37</text>
<text x="2107.3" y="788.22">0.19</text>
<text x="2107.3" y="933.35">0.01</text>
<text x="2107.3" y="1078.48">−0.17</text>
<text x="2107.3" y="1223.61">−0.35</text>
<text x="2107.3" y="1368.74">−0.53</text>
<text x="2107.3" y="1513.87">−0.71</text>
<text x="2107.3" y="1659.00">−0.89</text>
</g>
</svg></body></html>
